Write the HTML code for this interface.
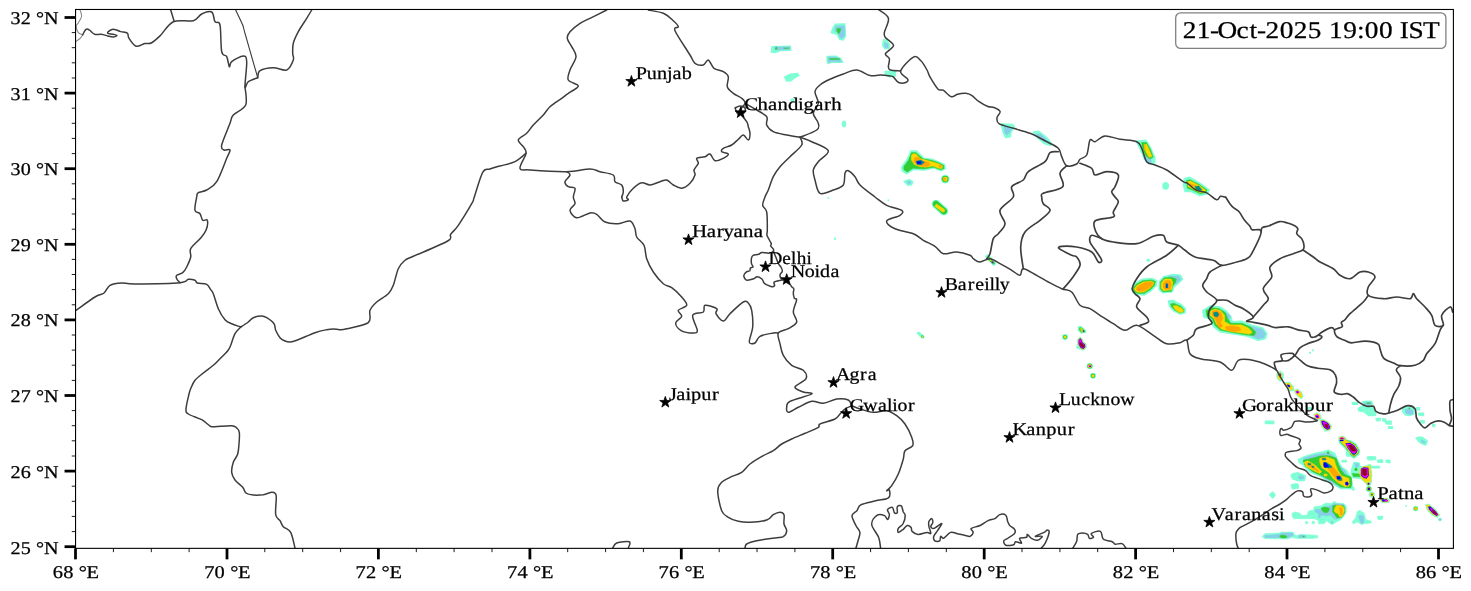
<!DOCTYPE html>
<html><head><meta charset="utf-8"><title>Radar map</title>
<style>html,body{margin:0;padding:0;background:#fff;overflow:hidden;}svg{display:block;will-change:transform;}text{font-family:"Liberation Serif",serif;fill:#000;stroke:#000;stroke-width:0.25px;text-rendering:geometricPrecision;}</style></head>
<body>
<svg width="1471" height="591" viewBox="0 0 1471 591">
<rect x="0" y="0" width="1471" height="591" fill="#fff"/>
<defs><clipPath id="ax"><rect x="75.55" y="9.48" width="1377.8500000000001" height="538.87"/></clipPath></defs>
<g clip-path="url(#ax)">
<polygon points="771.8,46.5 790.5,46.1 790.9,50.2 780.3,50.6 775.2,52.6 771.2,52.2" fill="#7fffd4" stroke="#7fffd4" stroke-width="1.2" stroke-linejoin="round"/>
<polygon points="774.2,47.0 790.1,47.0 790.1,49.6 775.2,50.0" fill="#87ceeb" stroke="#87ceeb" stroke-width="0.6" stroke-linejoin="round"/>
<polygon points="776.2,46.5 777.5,49.2 775.0,49.2" fill="#32cd32" stroke="#32cd32" stroke-width="0.3" stroke-linejoin="round"/>
<path d="M784.0,48.2 L788.4,48.2" fill="none" stroke="#32cd32" stroke-width="1.0" stroke-linecap="round" stroke-linejoin="round"/>
<polygon points="835.1,24.2 844.9,23.8 845.3,30.3 845.7,35.4 843.2,40.1 839.6,39.4 837.2,34.4 831.1,32.7 832.7,28.3" fill="#7fffd4" stroke="#7fffd4" stroke-width="1.2" stroke-linejoin="round"/>
<polygon points="835.5,26.2 844.3,25.8 844.9,35.4 842.2,38.4 839.6,37.4 838.2,32.7 834.7,31.3" fill="#87ceeb" stroke="#87ceeb" stroke-width="0.6" stroke-linejoin="round"/>
<polygon points="836.8,28.7 840.8,28.3 840.2,31.3 838.8,34.0 837.2,31.9" fill="#32cd32" stroke="#32cd32" stroke-width="0.4" stroke-linejoin="round"/>
<polygon points="827.0,56.3 836.1,56.1 841.2,58.7 842.8,62.4 831.1,62.4 828.0,63.8 827.0,60.8" fill="#7fffd4" stroke="#7fffd4" stroke-width="1.2" stroke-linejoin="round"/>
<polygon points="828.0,57.1 835.5,57.1 840.2,59.3 841.2,61.8 831.1,61.4 828.4,62.8" fill="#87ceeb" stroke="#87ceeb" stroke-width="0.6" stroke-linejoin="round"/>
<path d="M830.1,58.9 L839.2,58.9" fill="none" stroke="#32cd32" stroke-width="1.5" stroke-linecap="round" stroke-linejoin="round"/>
<polygon points="784.4,77.0 790.5,74.0 797.6,73.4 799.0,75.4 794.5,78.0 790.5,81.1 786.4,81.1" fill="#7fffd4" stroke="#7fffd4" stroke-width="1.2" stroke-linejoin="round"/>
<polygon points="883.5,39.4 886.9,40.5 889.9,44.5 888.9,48.6 884.9,48.6 882.4,45.5" fill="#7fffd4" stroke="#7fffd4" stroke-width="1.2" stroke-linejoin="round"/>
<polygon points="884.3,42.5 887.5,43.5 888.3,47.6 884.9,47.6" fill="#87ceeb" stroke="#87ceeb" stroke-width="0.6" stroke-linejoin="round"/>
<polygon points="884.9,71.3 895.6,70.9 895.6,76.0 889.9,77.0 885.5,75.4" fill="#7fffd4" stroke="#7fffd4" stroke-width="1.2" stroke-linejoin="round"/>
<ellipse cx="792.5" cy="100.3" rx="2.0" ry="2.0" fill="#7fffd4" transform="rotate(0 792.5 100.3)"/>
<ellipse cx="844.0" cy="124.0" rx="2.2" ry="3.4" fill="#7fffd4" transform="rotate(0 844.0 124.0)"/>
<polygon points="910.8,150.8 916.6,150.8 923.8,158.0 932.4,159.4 938.2,161.6 944.6,164.5 945.4,168.8 941.0,170.9 933.8,168.1 923.8,170.2 913.7,169.5 906.5,173.8 902.2,170.9 901.5,167.3 906.5,160.1 909.4,154.4" fill="#7fffd4" stroke="#7fffd4" stroke-width="1.2" stroke-linejoin="round"/>
<polygon points="911.5,152.7 915.9,152.7 923.1,159.0 931.7,160.4 938.2,162.7 943.9,165.6 943.6,168.8 940.3,169.5 933.8,167.1 923.8,168.8 913.0,168.1 907.2,171.9 903.9,169.5 903.9,166.6 908.7,160.1" fill="#32cd32" stroke="#32cd32" stroke-width="0.8" stroke-linejoin="round"/>
<polygon points="913.0,153.7 915.9,154.1 920.2,158.7 931.0,161.6 938.2,163.7 942.5,165.9 941.8,168.5 938.2,168.1 933.1,165.9 925.9,167.1 919.5,166.6 914.4,164.5 911.5,160.1 911.5,155.8" fill="#ffd700" stroke="#ffd700" stroke-width="0.6" stroke-linejoin="round"/>
<polygon points="914.4,158.0 918.0,157.3 922.3,160.9 928.8,162.3 930.3,164.5 927.4,166.6 921.6,166.2 916.6,164.7 913.7,161.6" fill="#ffa500" stroke="#ffa500" stroke-width="0.6" stroke-linejoin="round"/>
<polygon points="915.9,161.3 920.9,160.1 924.5,162.3 921.6,164.7 917.3,164.7" fill="#008b8b" stroke="#008b8b" stroke-width="0.5" stroke-linejoin="round"/>
<polygon points="916.9,161.6 920.9,161.6 920.9,163.7 917.3,163.7" fill="#0000ff" stroke="#0000ff" stroke-width="0.4" stroke-linejoin="round"/>
<polygon points="938.9,165.2 941.8,165.2 941.3,167.3 939.3,167.3" fill="#ffa500" stroke="#ffa500" stroke-width="0.4" stroke-linejoin="round"/>
<ellipse cx="945.2" cy="179.1" rx="4.3" ry="4.3" fill="#7fffd4" transform="rotate(0 945.2 179.1)"/>
<ellipse cx="945.2" cy="179.1" rx="3.3" ry="3.3" fill="#32cd32" transform="rotate(0 945.2 179.1)"/>
<ellipse cx="945.2" cy="179.1" rx="2.3" ry="2.3" fill="#ffd700" transform="rotate(0 945.2 179.1)"/>
<polygon points="943.2,177.7 945.6,178.1 945.4,180.6 943.5,180.3" fill="#ffa500" stroke="#ffa500" stroke-width="0.3" stroke-linejoin="round"/>
<polygon points="903.9,181.4 909.4,179.6 913.0,181.7 911.5,184.9 907.9,185.3" fill="#7fffd4" stroke="#7fffd4" stroke-width="1.2" stroke-linejoin="round"/>
<polygon points="906.5,181.7 910.1,181.0 911.1,183.2 908.7,183.9" fill="#87ceeb" stroke="#87ceeb" stroke-width="0.5" stroke-linejoin="round"/>
<path d="M936.0,204.0 L943.9,211.2" fill="none" stroke="#7fffd4" stroke-width="8.6" stroke-linecap="round" stroke-linejoin="round"/>
<path d="M936.0,204.0 L943.9,211.2" fill="none" stroke="#32cd32" stroke-width="6.4" stroke-linecap="round" stroke-linejoin="round"/>
<path d="M936.7,205.9 L943.2,210.5" fill="none" stroke="#ffd700" stroke-width="3.4" stroke-linecap="round" stroke-linejoin="round"/>
<polygon points="1001.1,123.9 1012.8,124.4 1014.8,127.1 1011.2,132.0 1010.4,136.9 1005.5,137.7 1003.1,132.8" fill="#7fffd4" stroke="#7fffd4" stroke-width="1.2" stroke-linejoin="round"/>
<polygon points="1003.9,126.3 1012.0,128.3 1009.3,132.8 1007.1,135.3 1004.7,132.8" fill="#87ceeb" stroke="#87ceeb" stroke-width="0.6" stroke-linejoin="round"/>
<polygon points="1033.2,132.0 1038.9,131.2 1047.1,137.7 1051.7,143.4 1050.4,145.6 1043.8,143.4 1037.3,137.7" fill="#7fffd4" stroke="#7fffd4" stroke-width="1.2" stroke-linejoin="round"/>
<polygon points="1036.5,134.1 1040.6,134.1 1046.3,139.4 1049.1,143.1 1044.7,141.8 1038.9,137.7" fill="#87ceeb" stroke="#87ceeb" stroke-width="0.6" stroke-linejoin="round"/>
<polygon points="1136.0,141.0 1145.8,140.2 1150.7,147.5 1155.1,158.1 1154.8,163.0 1149.1,163.8 1144.2,158.9 1140.1,149.2" fill="#7fffd4" stroke="#7fffd4" stroke-width="1.2" stroke-linejoin="round"/>
<polygon points="1144.2,156.5 1150.7,158.1 1151.5,162.2 1146.6,162.5 1144.7,159.8" fill="#87ceeb" stroke="#87ceeb" stroke-width="0.6" stroke-linejoin="round"/>
<polygon points="1141.7,142.6 1146.6,142.6 1150.7,150.0 1153.2,157.3 1149.9,158.9 1145.8,155.7 1142.6,149.2" fill="#32cd32" stroke="#32cd32" stroke-width="0.6" stroke-linejoin="round"/>
<polygon points="1144.2,144.6 1146.6,144.3 1149.6,150.8 1152.0,156.5 1149.1,157.3 1146.6,153.2 1144.7,149.2" fill="#ffd700" stroke="#ffd700" stroke-width="0.5" stroke-linejoin="round"/>
<path d="M1145.0,145.1 L1145.3,149.2" fill="none" stroke="#ffa500" stroke-width="0.8" stroke-linecap="round" stroke-linejoin="round"/>
<ellipse cx="1165.6" cy="185.9" rx="3.4" ry="3.8" fill="#7fffd4" transform="rotate(0 1165.6 185.9)"/>
<polygon points="1184.2,178.5 1189.9,177.2 1200.5,183.4 1209.4,189.9 1207.8,194.0 1199.7,195.7 1191.5,191.6 1185.0,191.6 1183.3,185.1" fill="#7fffd4" stroke="#7fffd4" stroke-width="1.2" stroke-linejoin="round"/>
<polygon points="1186.6,180.5 1189.9,179.8 1199.7,184.7 1207.0,189.9 1205.7,192.9 1199.7,193.5 1192.3,189.9 1187.4,188.3" fill="#32cd32" stroke="#32cd32" stroke-width="0.6" stroke-linejoin="round"/>
<polygon points="1187.7,181.5 1190.4,181.1 1199.2,185.4 1205.7,190.3 1204.7,192.1 1199.7,192.4 1193.1,189.1 1188.2,186.7" fill="#ffd700" stroke="#ffd700" stroke-width="0.5" stroke-linejoin="round"/>
<polygon points="1189.9,183.4 1195.6,185.4 1191.5,186.7" fill="#ffa500" stroke="#ffa500" stroke-width="0.4" stroke-linejoin="round"/>
<polygon points="1194.8,186.4 1198.8,185.9 1202.1,189.9 1198.8,191.1 1195.9,189.1" fill="#008b8b" stroke="#008b8b" stroke-width="0.5" stroke-linejoin="round"/>
<polygon points="1131.6,288.0 1135.3,283.1 1142.5,279.1 1152.2,278.3 1157.0,280.7 1156.2,285.5 1151.4,290.7 1144.1,295.2 1136.9,294.4 1132.9,292.8" fill="#7fffd4" stroke="#7fffd4" stroke-width="1.2" stroke-linejoin="round"/>
<polygon points="1133.2,288.4 1136.1,284.3 1142.8,280.7 1151.8,279.9 1155.4,281.5 1154.6,285.2 1150.5,289.6 1143.8,293.6 1137.4,293.3 1134.1,291.7" fill="#32cd32" stroke="#32cd32" stroke-width="0.6" stroke-linejoin="round"/>
<polygon points="1134.5,288.4 1137.4,285.2 1143.3,282.0 1151.4,281.2 1153.8,282.7 1153.0,285.2 1149.7,288.4 1143.8,292.0 1138.0,292.3 1135.3,290.7" fill="#ffd700" stroke="#ffd700" stroke-width="0.6" stroke-linejoin="round"/>
<polygon points="1136.1,288.0 1140.1,284.7 1145.7,282.3 1151.4,282.0 1153.0,283.6 1151.4,286.4 1148.1,288.8 1142.5,291.2 1138.0,291.2 1136.4,289.6" fill="#ffa500" stroke="#ffa500" stroke-width="0.5" stroke-linejoin="round"/>
<ellipse cx="1139.0" cy="289.6" rx="0.8" ry="0.8" fill="#ff6060" transform="rotate(0 1139.0 289.6)"/>
<polygon points="1159.4,281.5 1163.4,276.7 1173.1,274.3 1180.3,275.1 1182.7,279.1 1178.7,283.1 1173.9,287.2 1172.3,292.0 1162.6,292.8 1158.9,289.6" fill="#7fffd4" stroke="#7fffd4" stroke-width="1.2" stroke-linejoin="round"/>
<polygon points="1168.2,276.2 1178.7,275.9 1181.1,279.4 1175.5,283.9 1169.8,282.3" fill="#87ceeb" stroke="#87ceeb" stroke-width="0.6" stroke-linejoin="round"/>
<polygon points="1160.2,282.3 1164.2,277.8 1171.4,277.2 1176.3,279.1 1175.5,282.3 1172.7,286.4 1171.4,291.2 1163.1,291.7 1160.2,288.8" fill="#32cd32" stroke="#32cd32" stroke-width="0.6" stroke-linejoin="round"/>
<polygon points="1161.3,283.1 1164.7,279.1 1171.1,279.1 1172.7,282.3 1171.8,289.6 1163.7,290.7 1161.3,288.0" fill="#ffd700" stroke="#ffd700" stroke-width="0.6" stroke-linejoin="round"/>
<polygon points="1163.1,283.6 1165.5,280.4 1170.2,280.7 1171.4,283.9 1170.2,289.1 1164.7,289.6 1163.1,287.2" fill="#ffa500" stroke="#ffa500" stroke-width="0.5" stroke-linejoin="round"/>
<polygon points="1165.8,283.6 1167.9,283.6 1167.9,288.0 1165.8,288.0" fill="#008b8b" stroke="#008b8b" stroke-width="0.3" stroke-linejoin="round"/>
<path d="M1166.8,284.7 L1166.8,287.2" fill="none" stroke="#0000ff" stroke-width="0.8" stroke-linecap="round" stroke-linejoin="round"/>
<polygon points="1168.2,300.8 1173.1,300.3 1181.9,304.8 1185.6,308.9 1185.1,312.9 1180.3,314.2 1173.9,311.3 1169.5,306.4" fill="#7fffd4" stroke="#7fffd4" stroke-width="1.2" stroke-linejoin="round"/>
<polygon points="1170.6,304.0 1173.9,303.2 1181.1,306.4 1184.0,309.7 1183.5,312.1 1179.8,312.9 1174.7,310.0 1171.4,306.8" fill="#32cd32" stroke="#32cd32" stroke-width="0.6" stroke-linejoin="round"/>
<polygon points="1173.1,306.1 1176.3,305.6 1181.9,308.4 1183.5,310.5 1182.7,312.1 1179.5,312.6 1175.5,309.7" fill="#ffd700" stroke="#ffd700" stroke-width="0.5" stroke-linejoin="round"/>
<polygon points="1202.8,310.5 1210.0,306.1 1219.7,306.8 1226.9,311.3 1230.9,316.9 1232.5,321.7 1242.2,321.2 1253.4,325.7 1263.1,328.2 1267.1,333.8 1265.5,338.6 1258.3,340.5 1247.0,336.2 1232.5,333.8 1219.7,331.8 1213.2,326.5 1210.0,319.3 1203.6,316.9" fill="#7fffd4" stroke="#7fffd4" stroke-width="1.2" stroke-linejoin="round"/>
<polygon points="1248.6,325.7 1262.3,329.3 1265.5,334.1 1263.9,337.8 1257.9,338.9 1250.2,335.4" fill="#87ceeb" stroke="#87ceeb" stroke-width="0.6" stroke-linejoin="round"/>
<polygon points="1222.9,310.5 1230.9,316.1 1229.3,319.3 1224.5,314.5" fill="#87ceeb" stroke="#87ceeb" stroke-width="0.6" stroke-linejoin="round"/>
<polygon points="1206.0,310.5 1211.6,307.7 1218.9,308.5 1225.3,312.6 1227.7,318.5 1230.9,323.3 1242.2,323.3 1251.0,327.3 1255.9,332.2 1254.2,335.4 1247.0,335.1 1232.5,332.5 1220.5,330.2 1214.9,325.4 1212.0,318.5 1206.8,316.1" fill="#32cd32" stroke="#32cd32" stroke-width="0.6" stroke-linejoin="round"/>
<polygon points="1210.8,310.9 1214.9,309.3 1220.5,310.5 1224.5,315.3 1224.5,321.7 1230.9,324.9 1241.4,324.9 1248.6,328.2 1252.2,332.2 1249.4,334.1 1242.2,333.0 1230.9,331.4 1221.3,329.0 1216.5,324.1 1214.1,318.5 1210.0,315.3" fill="#ffd700" stroke="#ffd700" stroke-width="0.6" stroke-linejoin="round"/>
<polygon points="1212.4,311.3 1216.5,310.1 1221.3,312.9 1222.9,318.5 1220.5,322.5 1222.9,326.5 1218.1,325.7 1216.5,321.7 1214.5,317.7 1212.0,314.8" fill="#ffa500" stroke="#ffa500" stroke-width="0.5" stroke-linejoin="round"/>
<polygon points="1225.3,326.5 1232.5,325.7 1239.8,327.3 1240.6,330.6 1232.5,331.8 1226.1,329.8" fill="#ffa500" stroke="#ffa500" stroke-width="0.5" stroke-linejoin="round"/>
<polygon points="1218.4,324.5 1222.1,324.9 1221.0,327.7 1218.4,327.0" fill="#ffa500" stroke="#ffa500" stroke-width="0.4" stroke-linejoin="round"/>
<polygon points="1213.6,312.6 1217.3,312.1 1218.9,314.8 1217.3,316.9 1214.1,316.1" fill="#008b8b" stroke="#008b8b" stroke-width="0.5" stroke-linejoin="round"/>
<ellipse cx="1148.3" cy="260.3" rx="1.9" ry="1.5" fill="#7fffd4" transform="rotate(0 1148.3 260.3)"/>
<ellipse cx="1065.0" cy="337.1" rx="3.0" ry="3.0" fill="#7fffd4" transform="rotate(0 1065.0 337.1)"/>
<ellipse cx="1065.0" cy="337.1" rx="2.1" ry="2.1" fill="#32cd32" transform="rotate(0 1065.0 337.1)"/>
<ellipse cx="1065.0" cy="337.1" rx="1.3" ry="1.3" fill="#ffd700" transform="rotate(0 1065.0 337.1)"/>
<polygon points="1078.4,326.8 1081.0,326.5 1085.5,330.4 1085.7,332.5 1081.0,333.0 1078.4,330.4" fill="#7fffd4" stroke="#7fffd4" stroke-width="1.2" stroke-linejoin="round"/>
<polygon points="1079.3,327.8 1081.0,327.5 1084.6,330.6 1084.6,332.2 1081.4,332.3 1079.3,330.1" fill="#32cd32" stroke="#32cd32" stroke-width="0.4" stroke-linejoin="round"/>
<polygon points="1080.2,328.3 1081.4,328.3 1083.7,331.0 1083.1,331.9 1081.5,331.6" fill="#ffd700" stroke="#ffd700" stroke-width="0.3" stroke-linejoin="round"/>
<polygon points="1082.7,330.4 1084.3,331.0 1083.7,331.8" fill="#0000ff" stroke="#0000ff" stroke-width="0.3" stroke-linejoin="round"/>
<polygon points="1077.8,339.3 1080.2,336.9 1082.5,339.3 1083.1,341.6 1086.1,344.0 1086.4,347.5 1083.7,350.3 1080.2,349.3 1076.6,348.1 1077.5,344.0" fill="#7fffd4" stroke="#7fffd4" stroke-width="0.8" stroke-linejoin="round"/>
<polygon points="1078.2,339.6 1080.2,337.7 1082.0,339.6 1082.7,342.0 1085.5,344.3 1085.7,347.2 1083.5,349.6 1080.5,348.5 1078.2,344.6" fill="#ffd700" stroke="#ffd700" stroke-width="0.4" stroke-linejoin="round"/>
<polygon points="1078.8,339.9 1080.2,338.4 1081.5,340.1 1082.2,342.5 1084.9,344.6 1085.1,347.0 1083.4,348.8 1080.8,347.8 1078.8,344.3" fill="#0000ff" stroke="#0000ff" stroke-width="0.4" stroke-linejoin="round"/>
<polygon points="1079.2,340.1 1080.2,339.0 1081.1,340.4 1081.7,342.8 1084.3,344.8 1084.6,346.7 1083.3,348.1 1081.0,347.2 1079.2,344.1" fill="#ff00ff" stroke="#ff00ff" stroke-width="0.3" stroke-linejoin="round"/>
<polygon points="1079.8,342.0 1081.4,343.2 1083.8,345.2 1084.0,346.7 1083.1,347.5 1081.2,346.7 1079.7,343.9" fill="#8b0020" stroke="#8b0020" stroke-width="0.3" stroke-linejoin="round"/>
<ellipse cx="1089.8" cy="366.1" rx="3.2" ry="3.2" fill="#7fffd4" transform="rotate(0 1089.8 366.1)"/>
<ellipse cx="1089.8" cy="366.1" rx="2.5" ry="2.5" fill="#32cd32" transform="rotate(0 1089.8 366.1)"/>
<ellipse cx="1089.8" cy="366.1" rx="1.9" ry="1.9" fill="#ffd700" transform="rotate(0 1089.8 366.1)"/>
<ellipse cx="1089.8" cy="366.1" rx="1.2" ry="1.2" fill="#ff00ff" transform="rotate(0 1089.8 366.1)"/>
<ellipse cx="1090.2" cy="366.6" rx="0.7" ry="0.7" fill="#0000ff" transform="rotate(0 1090.2 366.6)"/>
<ellipse cx="1093.0" cy="375.8" rx="3.0" ry="3.0" fill="#7fffd4" transform="rotate(0 1093.0 375.8)"/>
<ellipse cx="1093.0" cy="375.8" rx="2.2" ry="2.2" fill="#32cd32" transform="rotate(0 1093.0 375.8)"/>
<ellipse cx="1093.0" cy="375.8" rx="1.4" ry="1.4" fill="#ffd700" transform="rotate(0 1093.0 375.8)"/>
<polygon points="1277.2,372.9 1280.2,371.0 1283.6,373.7 1283.3,378.3 1280.2,381.6 1277.5,379.0 1276.4,375.2" fill="#7fffd4" stroke="#7fffd4" stroke-width="0.8" stroke-linejoin="round"/>
<polygon points="1277.9,373.7 1280.2,372.2 1282.1,375.2 1281.0,379.0 1279.5,379.8 1277.8,377.1" fill="#ffd700" stroke="#ffd700" stroke-width="0.5" stroke-linejoin="round"/>
<polygon points="1278.4,374.5 1280.2,373.4 1281.0,375.2 1279.5,376.4" fill="#0000ff" stroke="#0000ff" stroke-width="0.4" stroke-linejoin="round"/>
<ellipse cx="1279.6" cy="374.9" rx="0.7" ry="0.7" fill="#ff00ff" transform="rotate(0 1279.6 374.9)"/>
<polygon points="1284.0,382.8 1289.4,382.1 1293.6,386.6 1293.9,390.5 1290.9,391.2 1286.3,387.4" fill="#7fffd4" stroke="#7fffd4" stroke-width="0.8" stroke-linejoin="round"/>
<polygon points="1285.1,383.6 1289.1,383.1 1292.4,387.1 1292.7,389.7 1290.6,389.8 1287.1,386.6" fill="#ffd700" stroke="#ffd700" stroke-width="0.5" stroke-linejoin="round"/>
<polygon points="1287.1,384.8 1289.4,385.1 1290.1,387.1 1288.1,386.8" fill="#0000ff" stroke="#0000ff" stroke-width="0.4" stroke-linejoin="round"/>
<polygon points="1294.2,390.5 1297.7,388.9 1301.5,392.0 1303.1,396.5 1301.5,399.0 1298.8,397.3 1295.5,393.8" fill="#7fffd4" stroke="#7fffd4" stroke-width="0.8" stroke-linejoin="round"/>
<polygon points="1295.1,390.9 1297.7,390.0 1300.8,392.4 1302.0,396.5 1300.9,397.8 1299.1,396.2 1296.2,393.5" fill="#ffd700" stroke="#ffd700" stroke-width="0.5" stroke-linejoin="round"/>
<polygon points="1295.9,391.2 1298.2,390.9 1299.3,392.7 1297.0,393.5" fill="#ff00ff" stroke="#ff00ff" stroke-width="0.4" stroke-linejoin="round"/>
<ellipse cx="1297.4" cy="392.1" rx="0.8" ry="0.8" fill="#0000ff" transform="rotate(0 1297.4 392.1)"/>
<polygon points="1313.7,414.8 1316.8,412.5 1320.6,414.8 1321.3,418.6 1318.3,420.1 1314.9,418.6" fill="#7fffd4" stroke="#7fffd4" stroke-width="0.8" stroke-linejoin="round"/>
<polygon points="1314.5,415.1 1316.8,413.6 1319.8,415.3 1320.3,418.2 1318.3,419.1 1315.5,418.0" fill="#ffd700" stroke="#ffd700" stroke-width="0.5" stroke-linejoin="round"/>
<polygon points="1315.2,415.6 1317.1,414.5 1319.0,416.0 1319.0,417.9 1317.1,418.2 1315.7,417.2" fill="#ff00ff" stroke="#ff00ff" stroke-width="0.4" stroke-linejoin="round"/>
<polygon points="1316.2,416.0 1318.0,416.0 1318.0,417.6 1316.5,417.2" fill="#0000ff" stroke="#0000ff" stroke-width="0.3" stroke-linejoin="round"/>
<polygon points="1320.1,420.1 1323.6,419.4 1328.9,422.4 1331.5,426.2 1330.5,430.0 1326.7,431.1 1322.9,428.5 1320.6,423.9" fill="#7fffd4" stroke="#7fffd4" stroke-width="0.8" stroke-linejoin="round"/>
<polygon points="1320.9,420.6 1323.6,420.1 1328.5,422.9 1330.8,426.4 1329.9,429.4 1326.8,430.2 1323.5,427.9 1321.3,423.9" fill="#ffd700" stroke="#ffd700" stroke-width="0.5" stroke-linejoin="round"/>
<polygon points="1321.6,420.9 1323.8,420.9 1328.0,423.3 1330.0,426.7 1329.3,428.8 1327.0,429.4 1324.1,427.3 1322.1,423.9" fill="#0000ff" stroke="#0000ff" stroke-width="0.4" stroke-linejoin="round"/>
<polygon points="1322.6,421.7 1324.4,422.1 1327.7,423.9 1329.3,426.7 1328.6,428.2 1327.0,428.5 1324.7,426.7 1323.2,423.9" fill="#ff00ff" stroke="#ff00ff" stroke-width="0.4" stroke-linejoin="round"/>
<polygon points="1324.4,423.9 1327.1,424.3 1328.6,427.0 1327.7,428.2 1325.6,427.0" fill="#8b0020" stroke="#8b0020" stroke-width="0.4" stroke-linejoin="round"/>
<polygon points="1338.4,437.6 1341.9,435.8 1345.7,437.6 1346.5,441.5 1343.4,443.4 1339.6,441.9" fill="#7fffd4" stroke="#7fffd4" stroke-width="0.8" stroke-linejoin="round"/>
<polygon points="1339.1,438.0 1341.9,436.6 1344.9,438.0 1345.7,441.2 1343.3,442.5 1340.2,441.3" fill="#ffd700" stroke="#ffd700" stroke-width="0.5" stroke-linejoin="round"/>
<polygon points="1339.9,438.3 1342.0,437.3 1344.2,438.4 1344.5,440.4 1342.6,441.3 1340.7,440.4" fill="#ff00ff" stroke="#ff00ff" stroke-width="0.4" stroke-linejoin="round"/>
<polygon points="1340.7,438.6 1342.6,438.3 1343.3,439.9 1341.6,440.2" fill="#8b0020" stroke="#8b0020" stroke-width="0.3" stroke-linejoin="round"/>
<polygon points="1358.2,408.4 1362.4,405.7 1370.1,405.4 1373.9,408.0 1376.1,413.3 1375.4,415.6 1368.5,415.6 1364.0,411.8 1358.6,411.0" fill="#7fffd4" stroke="#7fffd4" stroke-width="1.2" stroke-linejoin="round"/>
<polygon points="1362.4,401.4 1371.6,401.1 1372.8,404.2 1370.1,406.0 1364.7,405.7" fill="#7fffd4" stroke="#7fffd4" stroke-width="1.2" stroke-linejoin="round"/>
<polygon points="1363.7,402.3 1370.8,402.0 1371.6,404.2 1369.3,405.4 1365.2,404.9" fill="#87ceeb" stroke="#87ceeb" stroke-width="0.5" stroke-linejoin="round"/>
<path d="M1367.0,403.1 L1370.1,403.1" fill="none" stroke="#32cd32" stroke-width="1.2" stroke-linecap="round" stroke-linejoin="round"/>
<polygon points="1352.1,402.3 1357.6,402.3 1357.6,404.5 1352.5,404.5" fill="#7fffd4" stroke="#7fffd4" stroke-width="1.2" stroke-linejoin="round"/>
<polygon points="1375.8,418.6 1380.4,418.2 1380.0,420.6 1376.9,420.9" fill="#7fffd4" stroke="#7fffd4" stroke-width="1.2" stroke-linejoin="round"/>
<polygon points="1382.5,418.6 1386.0,419.1 1385.3,421.7 1383.0,420.9" fill="#7fffd4" stroke="#7fffd4" stroke-width="1.2" stroke-linejoin="round"/>
<polygon points="1385.3,421.2 1391.4,421.2 1391.1,424.3 1386.0,423.9" fill="#7fffd4" stroke="#7fffd4" stroke-width="1.2" stroke-linejoin="round"/>
<polygon points="1388.3,426.7 1392.6,426.7 1392.6,428.5 1388.6,428.5" fill="#7fffd4" stroke="#7fffd4" stroke-width="1.2" stroke-linejoin="round"/>
<polygon points="1402.3,408.4 1408.1,406.4 1413.9,408.7 1414.2,414.0 1409.6,415.6 1405.1,414.8 1402.8,411.8" fill="#7fffd4" stroke="#7fffd4" stroke-width="1.2" stroke-linejoin="round"/>
<polygon points="1405.1,409.5 1408.9,408.4 1413.0,410.2 1413.0,414.0 1408.9,414.5 1405.8,413.3" fill="#87ceeb" stroke="#87ceeb" stroke-width="0.5" stroke-linejoin="round"/>
<ellipse cx="1409.3" cy="408.4" rx="0.8" ry="0.8" fill="#32cd32" transform="rotate(0 1409.3 408.4)"/>
<polygon points="1416.5,407.5 1419.5,407.5 1419.5,409.9 1416.9,409.9" fill="#7fffd4" stroke="#7fffd4" stroke-width="1.2" stroke-linejoin="round"/>
<polygon points="1418.5,413.0 1423.6,413.0 1423.6,415.6 1418.8,415.1" fill="#7fffd4" stroke="#7fffd4" stroke-width="1.2" stroke-linejoin="round"/>
<polygon points="1420.6,420.6 1424.6,420.9 1424.1,423.2 1421.1,422.7" fill="#7fffd4" stroke="#7fffd4" stroke-width="1.2" stroke-linejoin="round"/>
<polygon points="1432.5,424.3 1434.8,424.3 1434.8,426.7 1432.8,426.7" fill="#7fffd4" stroke="#7fffd4" stroke-width="1.2" stroke-linejoin="round"/>
<polygon points="1416.0,438.0 1419.5,436.9 1426.7,440.7 1426.4,444.0 1421.8,443.7 1418.0,440.7" fill="#7fffd4" stroke="#7fffd4" stroke-width="1.2" stroke-linejoin="round"/>
<polygon points="1420.3,439.9 1424.9,441.5 1424.9,443.4 1421.8,443.0" fill="#87ceeb" stroke="#87ceeb" stroke-width="0.5" stroke-linejoin="round"/>
<polygon points="1265.3,421.2 1273.8,421.2 1273.8,423.6 1265.3,423.6" fill="#7fffd4" stroke="#7fffd4" stroke-width="1.2" stroke-linejoin="round"/>
<polygon points="1307.9,407.5 1310.7,407.5 1310.7,409.5 1308.2,409.5" fill="#7fffd4" stroke="#7fffd4" stroke-width="1.2" stroke-linejoin="round"/>
<polygon points="1298.6,459.3 1305.2,456.2 1313.4,453.7 1323.5,451.7 1328.6,450.2 1334.7,453.2 1337.7,460.3 1341.8,467.4 1346.9,470.5 1350.9,477.6 1352.9,488.7 1340.8,488.7 1330.6,482.6 1320.5,476.5 1310.3,472.5 1303.2,465.4 1298.6,461.8" fill="#7fffd4" stroke="#7fffd4" stroke-width="1.2" stroke-linejoin="round"/>
<polygon points="1303.2,458.3 1313.4,455.2 1324.5,453.2 1330.6,453.7 1335.7,457.8 1338.7,465.4 1344.8,470.5 1346.9,474.5 1338.7,473.5 1330.6,470.5" fill="#87ceeb" stroke="#87ceeb" stroke-width="0.8" stroke-linejoin="round"/>
<polygon points="1310.3,470.5 1320.5,475.5 1330.6,481.6 1338.7,486.7 1340.8,487.7 1332.6,480.6 1320.5,473.5" fill="#87ceeb" stroke="#87ceeb" stroke-width="0.8" stroke-linejoin="round"/>
<polygon points="1303.2,460.3 1308.3,459.3 1314.4,457.8 1320.5,456.0 1328.6,455.7 1336.2,458.3 1338.5,464.4 1341.0,469.9 1344.6,474.5 1351.1,477.1 1351.9,482.6 1350.9,487.7 1340.8,486.9 1332.6,481.1 1320.5,475.0 1313.4,472.0 1305.2,465.9" fill="#32cd32" stroke="#32cd32" stroke-width="0.8" stroke-linejoin="round"/>
<ellipse cx="1328.1" cy="452.7" rx="1.3" ry="1.3" fill="#32cd32" transform="rotate(0 1328.1 452.7)"/>
<polygon points="1304.2,462.3 1307.8,460.8 1315.4,465.4 1321.5,471.5 1319.9,473.5 1314.4,471.0 1306.2,466.4" fill="#ffd700" stroke="#ffd700" stroke-width="0.6" stroke-linejoin="round"/>
<polygon points="1319.8,458.3 1326.5,456.9 1334.3,459.7 1335.5,464.4 1337.9,470.5 1341.3,475.7 1348.9,478.4 1349.3,485.9 1344.8,486.5 1338.9,483.2 1332.8,478.2 1328.8,472.3 1321.9,467.7 1319.8,462.5" fill="#ffd700" stroke="#ffd700" stroke-width="0.6" stroke-linejoin="round"/>
<polygon points="1324.0,474.0 1327.1,474.0 1327.1,476.0 1324.0,476.0" fill="#ffd700" stroke="#ffd700" stroke-width="0.5" stroke-linejoin="round"/>
<polygon points="1306.2,463.8 1308.3,462.9 1313.9,466.4 1319.0,471.0 1318.4,471.8 1314.4,469.5 1307.5,465.4" fill="#ffa500" stroke="#ffa500" stroke-width="0.4" stroke-linejoin="round"/>
<polygon points="1321.5,458.3 1325.5,457.5 1326.5,459.8 1322.5,460.3" fill="#ffa500" stroke="#ffa500" stroke-width="0.5" stroke-linejoin="round"/>
<polygon points="1327.1,464.9 1332.6,466.2 1337.7,472.5 1341.3,476.5 1342.8,480.6 1338.7,481.6 1334.7,477.6 1330.6,472.5 1328.1,468.9" fill="#ffa500" stroke="#ffa500" stroke-width="0.5" stroke-linejoin="round"/>
<polygon points="1322.3,458.5 1325.5,458.3 1325.7,459.8 1322.5,460.0" fill="#008b8b" stroke="#008b8b" stroke-width="0.4" stroke-linejoin="round"/>
<polygon points="1323.3,462.5 1326.5,462.5 1331.6,465.9 1331.6,467.6 1328.6,467.9 1324.0,467.4" fill="#008b8b" stroke="#008b8b" stroke-width="0.4" stroke-linejoin="round"/>
<polygon points="1336.5,476.0 1340.3,476.0 1342.0,479.1 1341.3,480.8 1337.7,480.1" fill="#008b8b" stroke="#008b8b" stroke-width="0.4" stroke-linejoin="round"/>
<polygon points="1308.0,463.1 1310.8,463.4 1310.8,464.9 1308.3,464.9" fill="#008b8b" stroke="#008b8b" stroke-width="0.4" stroke-linejoin="round"/>
<polygon points="1311.8,465.9 1313.9,466.2 1313.9,467.6 1312.1,467.6" fill="#008b8b" stroke="#008b8b" stroke-width="0.4" stroke-linejoin="round"/>
<polygon points="1324.0,462.8 1325.5,462.5 1328.8,466.6 1325.0,467.4 1323.7,465.9" fill="#0000ff" stroke="#0000ff" stroke-width="0.4" stroke-linejoin="round"/>
<polygon points="1336.9,476.8 1339.9,476.8 1340.3,479.1 1337.2,479.1" fill="#0000ff" stroke="#0000ff" stroke-width="0.4" stroke-linejoin="round"/>
<polygon points="1345.3,482.4 1347.4,481.8 1348.6,483.9 1347.4,485.4 1345.6,484.7" fill="#0000ff" stroke="#0000ff" stroke-width="0.4" stroke-linejoin="round"/>
<polygon points="1354.0,462.3 1359.0,462.8 1360.1,466.4 1363.1,466.9 1370.2,464.4 1371.7,473.5 1371.2,482.6 1368.2,485.7 1361.1,478.6 1352.9,477.6 1350.9,473.5 1351.9,468.4" fill="#7fffd4" stroke="#7fffd4" stroke-width="1.2" stroke-linejoin="round"/>
<polygon points="1355.0,463.4 1358.5,463.6 1358.8,466.6 1355.5,467.4" fill="#87ceeb" stroke="#87ceeb" stroke-width="0.6" stroke-linejoin="round"/>
<polygon points="1352.4,473.5 1360.1,474.0 1360.6,476.5 1353.5,476.8" fill="#32cd32" stroke="#32cd32" stroke-width="0.6" stroke-linejoin="round"/>
<ellipse cx="1356.0" cy="469.4" rx="1.6" ry="1.6" fill="#32cd32" transform="rotate(0 1356.0 469.4)"/>
<polygon points="1360.1,468.9 1363.1,466.9 1370.2,465.9 1370.9,473.5 1370.7,482.6 1367.7,484.7 1364.6,481.6 1361.1,478.1 1359.5,473.5" fill="#ffd700" stroke="#ffd700" stroke-width="0.6" stroke-linejoin="round"/>
<polygon points="1361.1,468.9 1363.6,467.6 1368.2,467.9 1368.7,475.5 1366.6,478.4 1363.6,477.8 1361.1,475.5" fill="#0000ff" stroke="#0000ff" stroke-width="0.4" stroke-linejoin="round"/>
<polygon points="1361.6,469.2 1363.9,468.2 1367.7,468.4 1368.0,475.3 1366.3,477.6 1363.9,477.1 1361.7,475.0" fill="#ff00ff" stroke="#ff00ff" stroke-width="0.4" stroke-linejoin="round"/>
<polygon points="1362.5,468.9 1366.6,468.9 1367.0,474.5 1365.1,476.0 1362.5,474.5" fill="#8b0020" stroke="#8b0020" stroke-width="0.4" stroke-linejoin="round"/>
<polygon points="1367.7,482.6 1370.0,482.4 1370.2,484.5 1368.0,484.7" fill="#0000ff" stroke="#0000ff" stroke-width="0.4" stroke-linejoin="round"/>
<ellipse cx="1368.9" cy="488.9" rx="3.0" ry="3.0" fill="#7fffd4" transform="rotate(0 1368.9 488.9)"/>
<ellipse cx="1368.9" cy="488.9" rx="2.4" ry="2.4" fill="#32cd32" transform="rotate(0 1368.9 488.9)"/>
<ellipse cx="1368.9" cy="488.9" rx="1.8" ry="1.8" fill="#ffd700" transform="rotate(0 1368.9 488.9)"/>
<ellipse cx="1368.9" cy="488.9" rx="1.3" ry="1.3" fill="#0000ff" transform="rotate(0 1368.9 488.9)"/>
<ellipse cx="1368.9" cy="488.9" rx="0.7" ry="0.7" fill="#8b0020" transform="rotate(0 1368.9 488.9)"/>
<ellipse cx="1371.9" cy="494.6" rx="3.0" ry="3.0" fill="#7fffd4" transform="rotate(0 1371.9 494.6)"/>
<ellipse cx="1371.9" cy="494.6" rx="2.0" ry="2.0" fill="#ffd700" transform="rotate(0 1371.9 494.6)"/>
<ellipse cx="1371.9" cy="494.6" rx="1.1" ry="1.1" fill="#008b8b" transform="rotate(0 1371.9 494.6)"/>
<polygon points="1338.7,440.0 1346.9,440.0 1350.9,441.0 1356.0,444.1 1359.5,450.2 1359.0,454.2 1354.0,458.3 1349.9,455.2 1344.8,448.1 1339.7,443.0" fill="#7fffd4" stroke="#7fffd4" stroke-width="1.2" stroke-linejoin="round"/>
<polygon points="1339.7,440.0 1345.8,440.0 1350.9,441.8 1355.5,444.6 1358.8,450.2 1358.2,453.7 1353.8,457.1 1350.7,454.7 1345.6,447.6 1340.6,442.5" fill="#32cd32" stroke="#32cd32" stroke-width="0.5" stroke-linejoin="round"/>
<polygon points="1340.3,440.0 1345.3,440.0 1350.7,442.5 1355.0,445.1 1358.2,450.2 1357.5,453.2 1353.8,456.2 1351.2,454.2 1346.1,447.1 1341.3,442.2" fill="#ffd700" stroke="#ffd700" stroke-width="0.5" stroke-linejoin="round"/>
<polygon points="1345.6,443.6 1349.9,443.0 1354.2,445.6 1357.2,450.2 1356.5,452.7 1354.0,455.2 1351.7,453.2 1347.9,448.1" fill="#0000ff" stroke="#0000ff" stroke-width="0.4" stroke-linejoin="round"/>
<polygon points="1346.1,444.1 1349.9,443.9 1353.8,446.1 1356.5,450.2 1355.8,452.2 1354.0,453.7 1351.9,452.4 1348.4,447.9" fill="#ff00ff" stroke="#ff00ff" stroke-width="0.4" stroke-linejoin="round"/>
<polygon points="1348.4,445.3 1350.9,444.9 1354.0,447.1 1355.8,450.2 1355.0,451.4 1351.9,451.0 1349.9,448.6" fill="#8b0020" stroke="#8b0020" stroke-width="0.4" stroke-linejoin="round"/>
<polygon points="1352.4,453.7 1355.0,453.2 1354.2,455.2" fill="#008b8b" stroke="#008b8b" stroke-width="0.4" stroke-linejoin="round"/>
<polygon points="1339.7,440.0 1343.3,440.0 1343.3,441.0 1340.3,441.0" fill="#0000ff" stroke="#0000ff" stroke-width="0.3" stroke-linejoin="round"/>
<polygon points="1291.5,474.5 1294.6,473.0 1298.1,475.0 1297.6,478.6 1294.1,479.1 1291.2,477.1" fill="#7fffd4" stroke="#7fffd4" stroke-width="1.2" stroke-linejoin="round"/>
<polygon points="1299.1,476.0 1302.7,475.5 1303.7,478.1 1301.2,480.1 1298.9,478.6" fill="#7fffd4" stroke="#7fffd4" stroke-width="1.2" stroke-linejoin="round"/>
<polygon points="1299.6,476.5 1302.2,476.3 1302.7,478.1 1300.7,479.1" fill="#87ceeb" stroke="#87ceeb" stroke-width="0.5" stroke-linejoin="round"/>
<polygon points="1291.5,485.2 1295.1,483.9 1298.6,485.7 1298.1,487.7 1294.1,488.2 1291.5,486.9" fill="#7fffd4" stroke="#7fffd4" stroke-width="1.2" stroke-linejoin="round"/>
<polygon points="1367.2,457.8 1371.2,457.1 1374.3,458.3 1373.2,459.8 1368.7,459.8" fill="#7fffd4" stroke="#7fffd4" stroke-width="1.2" stroke-linejoin="round"/>
<polygon points="1377.3,460.3 1381.9,459.8 1382.4,461.8 1378.3,462.3" fill="#7fffd4" stroke="#7fffd4" stroke-width="1.2" stroke-linejoin="round"/>
<polygon points="1385.9,460.5 1390.0,460.3 1390.0,462.8 1386.4,462.5" fill="#7fffd4" stroke="#7fffd4" stroke-width="1.2" stroke-linejoin="round"/>
<polygon points="1341.8,460.5 1346.3,460.3 1346.3,461.8 1342.0,461.8" fill="#7fffd4" stroke="#7fffd4" stroke-width="1.2" stroke-linejoin="round"/>
<polygon points="1371.2,466.4 1379.3,466.4 1379.3,467.9 1371.4,467.9" fill="#7fffd4" stroke="#7fffd4" stroke-width="1.2" stroke-linejoin="round"/>
<polygon points="1351.9,487.7 1354.0,487.7 1354.0,490.3 1352.4,489.7" fill="#7fffd4" stroke="#7fffd4" stroke-width="1.2" stroke-linejoin="round"/>
<polygon points="1346.1,452.2 1348.9,452.2 1349.4,456.2 1346.9,456.2" fill="#7fffd4" stroke="#7fffd4" stroke-width="1.2" stroke-linejoin="round"/>
<polygon points="1379.7,498.6 1386.8,498.0 1389.8,500.0 1388.8,502.7 1381.7,502.7" fill="#7fffd4" stroke="#7fffd4" stroke-width="0.8" stroke-linejoin="round"/>
<polygon points="1380.3,499.0 1386.4,498.6 1388.8,500.4 1388.0,502.1 1382.1,502.1" fill="#ffd700" stroke="#ffd700" stroke-width="0.5" stroke-linejoin="round"/>
<polygon points="1381.7,499.6 1386.8,499.4 1387.8,501.1 1382.7,501.5" fill="#0000ff" stroke="#0000ff" stroke-width="0.4" stroke-linejoin="round"/>
<polygon points="1384.8,499.8 1387.4,500.0 1387.2,501.3 1385.2,501.3" fill="#ff00ff" stroke="#ff00ff" stroke-width="0.3" stroke-linejoin="round"/>
<ellipse cx="1415.6" cy="508.6" rx="2.6" ry="2.6" fill="#7fffd4" transform="rotate(0 1415.6 508.6)"/>
<ellipse cx="1415.6" cy="508.6" rx="2.0" ry="2.0" fill="#32cd32" transform="rotate(0 1415.6 508.6)"/>
<ellipse cx="1415.6" cy="508.6" rx="1.5" ry="1.5" fill="#ffd700" transform="rotate(0 1415.6 508.6)"/>
<ellipse cx="1415.6" cy="508.6" rx="0.8" ry="0.8" fill="#ffa500" transform="rotate(0 1415.6 508.6)"/>
<polygon points="1425.4,504.7 1429.0,504.1 1435.5,509.6 1440.0,514.9 1437.6,517.7 1431.9,515.3 1427.4,510.2" fill="#7fffd4" stroke="#7fffd4" stroke-width="0.8" stroke-linejoin="round"/>
<polygon points="1426.2,505.1 1429.0,505.1 1435.1,510.2 1438.8,514.9 1437.1,516.5 1432.3,514.2 1428.0,509.8" fill="#ffd700" stroke="#ffd700" stroke-width="0.5" stroke-linejoin="round"/>
<polygon points="1428.4,506.7 1430.4,506.7 1435.5,511.2 1438.0,514.7 1436.5,515.7 1432.7,513.2 1429.4,509.6" fill="#0000ff" stroke="#0000ff" stroke-width="0.4" stroke-linejoin="round"/>
<polygon points="1429.8,508.2 1431.9,508.8 1435.9,512.2 1437.6,514.4 1436.1,515.1 1433.1,512.8" fill="#ff00ff" stroke="#ff00ff" stroke-width="0.4" stroke-linejoin="round"/>
<polygon points="1431.9,509.8 1434.5,511.2 1437.1,514.2 1435.5,514.4 1433.1,512.2" fill="#8b0020" stroke="#8b0020" stroke-width="0.4" stroke-linejoin="round"/>
<ellipse cx="1440.0" cy="519.5" rx="1.8" ry="1.8" fill="#7fffd4" transform="rotate(0 1440.0 519.5)"/>
<ellipse cx="1440.0" cy="519.5" rx="1.2" ry="1.2" fill="#87ceeb" transform="rotate(0 1440.0 519.5)"/>
<polygon points="1292.1,513.2 1295.5,511.9 1299.8,513.2 1302.3,515.7 1307.4,514.9 1308.2,511.5 1310.8,510.2 1313.3,510.7 1314.1,506.8 1320.9,506.0 1326.0,503.0 1331.9,503.5 1334.5,500.9 1336.1,503.0 1343.8,503.5 1346.3,506.0 1346.3,511.9 1343.8,516.2 1341.2,519.5 1336.1,522.1 1332.8,524.6 1329.4,523.3 1326.8,520.4 1324.3,523.8 1318.4,523.8 1318.4,520.4 1314.1,518.7 1304.0,518.7 1293.8,518.7 1292.1,516.2" fill="#7fffd4" stroke="#7fffd4" stroke-width="0.6" stroke-linejoin="round"/>
<polygon points="1315.0,509.8 1320.9,509.0 1324.3,506.8 1331.1,505.6 1333.6,503.5 1343.8,504.3 1345.4,508.5 1344.6,513.6 1341.2,517.8 1336.1,519.5 1332.8,517.8 1331.1,515.3 1326.0,515.7 1320.9,515.3 1320.1,517.8 1318.4,517.8 1318.4,513.2 1315.0,511.9" fill="#87ceeb" stroke="#87ceeb" stroke-width="0.4" stroke-linejoin="round"/>
<polygon points="1331.1,521.2 1332.8,521.2 1332.8,523.3 1331.1,523.3" fill="#87ceeb" stroke="#87ceeb" stroke-width="0.3" stroke-linejoin="round"/>
<polygon points="1321.1,508.1 1324.3,507.0 1327.7,507.7 1329.8,508.5 1328.5,511.5 1326.8,512.8 1324.3,512.6 1322.2,510.7" fill="#32cd32" stroke="#32cd32" stroke-width="0.4" stroke-linejoin="round"/>
<polygon points="1332.8,505.6 1336.1,505.0 1343.3,505.6 1345.0,508.5 1344.6,513.2 1341.6,517.4 1337.0,518.0 1334.5,514.5 1332.3,511.5" fill="#32cd32" stroke="#32cd32" stroke-width="0.4" stroke-linejoin="round"/>
<polygon points="1334.5,509.0 1336.1,505.6 1340.4,505.3 1343.3,506.8 1344.6,509.4 1343.3,514.0 1341.6,517.0 1339.5,516.6 1338.3,514.0 1335.7,512.8 1334.0,511.1" fill="#ffd700" stroke="#ffd700" stroke-width="0.4" stroke-linejoin="round"/>
<polygon points="1339.4,507.7 1342.1,507.5 1342.5,510.7 1341.9,515.3 1340.2,514.9 1339.9,511.1" fill="#ffa500" stroke="#ffa500" stroke-width="0.3" stroke-linejoin="round"/>
<polygon points="1305.3,521.6 1307.8,521.6 1307.8,523.8 1305.3,523.8" fill="#7fffd4" stroke="#7fffd4" stroke-width="0.4" stroke-linejoin="round"/>
<polygon points="1312.0,521.2 1314.6,521.2 1314.6,523.8 1312.0,523.8" fill="#7fffd4" stroke="#7fffd4" stroke-width="0.4" stroke-linejoin="round"/>
<polygon points="1352.2,522.1 1355.6,517.8 1357.3,511.5 1359.8,510.2 1364.1,513.2 1365.8,519.5 1368.3,520.4 1370.0,520.4 1371.7,522.5 1367.4,523.8 1364.9,523.3 1361.5,524.6 1357.3,522.1 1353.1,523.8" fill="#7fffd4" stroke="#7fffd4" stroke-width="0.6" stroke-linejoin="round"/>
<polygon points="1358.1,516.2 1360.3,514.9 1363.6,515.7 1364.1,522.9 1361.1,523.8 1359.8,520.4" fill="#87ceeb" stroke="#87ceeb" stroke-width="0.4" stroke-linejoin="round"/>
<polygon points="1262.1,536.5 1265.1,533.5 1279.5,533.1 1281.2,532.1 1293.0,532.1 1294.7,534.8 1296.4,535.6 1300.6,534.3 1317.5,535.4 1318.0,537.7 1311.6,538.6 1297.2,538.6 1292.1,537.3 1287.9,539.0 1264.2,538.6" fill="#7fffd4" stroke="#7fffd4" stroke-width="0.6" stroke-linejoin="round"/>
<polygon points="1264.7,535.6 1279.5,534.3 1282.0,532.9 1292.6,532.9 1293.4,535.4 1287.9,537.7 1265.1,537.7" fill="#87ceeb" stroke="#87ceeb" stroke-width="0.4" stroke-linejoin="round"/>
<polygon points="1298.5,536.0 1301.5,534.8 1306.1,536.0 1305.7,537.7 1298.9,537.7" fill="#87ceeb" stroke="#87ceeb" stroke-width="0.4" stroke-linejoin="round"/>
<polygon points="1279.3,536.0 1282.0,534.9 1285.8,535.4 1287.1,536.9 1285.4,538.0 1281.2,538.0" fill="#32cd32" stroke="#32cd32" stroke-width="0.3" stroke-linejoin="round"/>
<polygon points="1302.3,536.0 1304.7,536.0 1303.5,537.3" fill="#32cd32" stroke="#32cd32" stroke-width="0.3" stroke-linejoin="round"/>
<polygon points="1291.8,475.7 1297.5,472.6 1305.6,475.7 1304.6,480.3 1297.5,480.8 1292.4,478.7" fill="#7fffd4" stroke="#7fffd4" stroke-width="1.2" stroke-linejoin="round"/>
<polygon points="1298.5,475.7 1303.6,476.3 1303.2,479.1 1299.1,479.1" fill="#87ceeb" stroke="#87ceeb" stroke-width="0.5" stroke-linejoin="round"/>
<polygon points="1291.4,484.8 1297.5,483.8 1298.5,487.9 1292.4,488.9" fill="#7fffd4" stroke="#7fffd4" stroke-width="1.2" stroke-linejoin="round"/>
<polygon points="1269.5,494.6 1272.7,491.9 1275.2,495.0 1272.7,498.0" fill="#7fffd4" stroke="#7fffd4" stroke-width="1.2" stroke-linejoin="round"/>
<polygon points="1416.8,438.5 1422.3,437.1 1427.4,441.2 1425.4,445.2 1420.3,442.6" fill="#7fffd4" stroke="#7fffd4" stroke-width="1.2" stroke-linejoin="round"/>
<polygon points="1420.9,439.7 1425.4,441.8 1424.4,443.8 1421.3,441.8" fill="#87ceeb" stroke="#87ceeb" stroke-width="0.4" stroke-linejoin="round"/>
<polygon points="1367.5,456.8 1375.6,456.8 1375.6,459.4 1368.1,459.4" fill="#7fffd4" stroke="#7fffd4" stroke-width="1.2" stroke-linejoin="round"/>
<polygon points="1377.7,460.5 1382.7,460.0 1382.7,462.5 1378.3,462.5" fill="#7fffd4" stroke="#7fffd4" stroke-width="1.2" stroke-linejoin="round"/>
<polygon points="1386.8,460.0 1389.2,460.5 1389.2,462.5 1387.2,462.5" fill="#7fffd4" stroke="#7fffd4" stroke-width="1.2" stroke-linejoin="round"/>
<polygon points="1377.7,516.7 1382.7,516.3 1382.3,518.9 1378.3,519.3" fill="#7fffd4" stroke="#7fffd4" stroke-width="1.2" stroke-linejoin="round"/>
<ellipse cx="1406.1" cy="505.9" rx="0.9" ry="0.9" fill="#7fffd4" transform="rotate(0 1406.1 505.9)"/>
<ellipse cx="1368.5" cy="483.8" rx="2.4" ry="2.4" fill="#7fffd4" transform="rotate(0 1368.5 483.8)"/>
<ellipse cx="1368.5" cy="483.8" rx="1.7" ry="1.7" fill="#ffd700" transform="rotate(0 1368.5 483.8)"/>
<ellipse cx="1368.5" cy="483.8" rx="1.0" ry="1.0" fill="#0000ff" transform="rotate(0 1368.5 483.8)"/>
<ellipse cx="1325.1" cy="430.4" rx="1.2" ry="1.2" fill="#7fffd4" transform="rotate(0 1325.1 430.4)"/>
<ellipse cx="828.3" cy="198.0" rx="1.0" ry="1.0" fill="#7fffd4" transform="rotate(0 828.3 198.0)"/>
<ellipse cx="835.0" cy="238.7" rx="1.2" ry="1.2" fill="#7fffd4" transform="rotate(0 835.0 238.7)"/>
<ellipse cx="888.3" cy="200.3" rx="1.0" ry="1.0" fill="#7fffd4" transform="rotate(0 888.3 200.3)"/>
<path d="M918.5,333.2 L923.0,337.0" fill="none" stroke="#7fffd4" stroke-width="3.2" stroke-linecap="round" stroke-linejoin="round"/>
<ellipse cx="922.3" cy="336.5" rx="1.3" ry="1.3" fill="#32cd32" transform="rotate(0 922.3 336.5)"/>
<ellipse cx="922.3" cy="336.5" rx="0.7" ry="0.7" fill="#ffd700" transform="rotate(0 922.3 336.5)"/>
<path d="M987.5,256.5 L994.0,263.5" fill="none" stroke="#7fffd4" stroke-width="4.2" stroke-linecap="round" stroke-linejoin="round"/>
<path d="M989.0,258.5 L993.5,263.0" fill="none" stroke="#32cd32" stroke-width="2.8" stroke-linecap="round" stroke-linejoin="round"/>
<ellipse cx="990.5" cy="260.0" rx="0.9" ry="0.9" fill="#ffd700" transform="rotate(0 990.5 260.0)"/>
<ellipse cx="992.4" cy="262.2" rx="1.0" ry="1.0" fill="#ff00ff" transform="rotate(0 992.4 262.2)"/>
<ellipse cx="992.4" cy="262.2" rx="0.5" ry="0.5" fill="#0000ff" transform="rotate(0 992.4 262.2)"/>
<ellipse cx="1310.0" cy="352.8" rx="1.1" ry="1.1" fill="#7fffd4" transform="rotate(0 1310.0 352.8)"/>
<ellipse cx="1312.8" cy="350.3" rx="1.1" ry="1.1" fill="#7fffd4" transform="rotate(0 1312.8 350.3)"/>
<g fill="none" stroke="#3d3d3d" stroke-width="1.5" stroke-linejoin="round" stroke-linecap="round">
<path d="M80.0,9.8 C80.3,10.9 81.9,14.1 81.6,16.3 C81.3,18.5 79.2,21.3 78.3,22.9 C77.4,24.5 76.2,24.5 76.2,26.1 C76.2,27.7 77.2,31.2 78.3,32.6 C79.4,34.0 82.0,34.4 82.7,34.8" stroke="#8c8c8c" stroke-width="1.1"/>
<path d="M82.7,34.8 C82.3,35.3 81.6,36.9 80.5,38.0 C79.4,39.1 76.9,40.8 76.2,41.3" stroke="#8c8c8c" stroke-width="1.1"/>
<path d="M82.7,34.8 C83.2,33.9 84.9,30.2 86.0,29.4 C87.1,28.6 87.8,29.1 89.2,29.9 C90.7,30.7 92.7,33.6 94.7,34.3 C96.7,35.0 99.0,34.0 101.2,34.3 C103.4,34.6 105.7,35.4 107.7,35.9 C109.7,36.4 111.7,37.1 113.2,37.0 C114.8,36.9 117.0,35.9 117.0,35.4 C117.0,34.9 114.8,34.7 113.2,34.3 C111.7,33.9 108.2,33.8 107.7,33.2 C107.2,32.6 108.8,31.1 109.9,30.5 C111.0,29.9 112.5,29.2 114.3,29.4 C116.1,29.6 118.6,31.0 120.8,31.6 C123.0,32.2 125.9,32.1 127.3,33.2 C128.7,34.3 127.5,35.9 128.9,38.1 C130.3,40.3 133.4,45.3 136.0,46.2 C138.6,47.1 142.1,44.0 144.7,43.5 C147.2,43.0 148.8,44.3 151.3,43.0 C153.9,41.7 156.3,39.4 160.0,35.9 C163.7,32.4 167.8,24.2 173.3,21.7 C178.9,19.2 188.6,22.0 193.3,20.7 C198.0,19.4 198.6,15.4 201.7,14.0 C204.8,12.6 209.5,10.7 211.7,12.0 C213.9,13.3 213.6,19.5 215.0,21.7 C216.4,23.9 218.9,20.0 220.0,25.0 C221.1,30.0 220.6,46.4 221.7,51.7 C222.8,57.0 225.4,54.2 226.7,56.7 C228.0,59.2 228.5,65.9 229.3,66.7 C230.1,67.5 229.4,63.5 231.7,61.7 C234.0,59.9 240.8,56.0 243.3,56.0 C245.8,56.0 246.4,56.6 246.7,61.7 C247.0,66.8 244.7,83.4 245.0,86.7 C245.3,90.0 246.2,83.2 248.3,81.7 C250.4,80.2 256.1,78.4 257.7,77.7"/>
<path d="M170.7,10.0 L174.0,20.7"/>
<path d="M235.7,10.0 C236.9,12.5 241.1,21.1 242.7,25.0 C244.2,28.9 242.5,24.5 245.0,33.3 C247.5,42.1 255.6,70.3 257.7,77.7" stroke-width="1.15"/>
<path d="M311.7,10.0 C310.9,11.4 308.9,14.7 306.7,18.3 C304.5,21.9 300.5,27.5 298.3,31.7 C296.1,35.9 294.2,39.7 293.3,43.3 C292.4,46.9 292.7,50.5 292.7,53.3 C292.7,56.1 294.3,57.2 293.3,60.0 C292.3,62.8 290.0,68.7 286.7,70.0 C283.4,71.3 277.8,67.6 273.3,67.7 C268.9,67.8 262.6,69.0 260.0,70.7 C257.4,72.4 258.1,76.5 257.7,77.7"/>
<path d="M245.0,86.7 C245.1,89.8 247.6,100.3 245.7,105.0 C243.8,109.7 235.9,112.0 233.3,115.0 C230.7,118.0 231.9,118.3 230.0,123.3 C228.1,128.3 222.7,140.6 221.7,145.0 C220.7,149.4 222.6,149.2 224.0,150.0 C225.4,150.8 229.6,148.6 230.0,150.0 C230.4,151.4 228.9,153.0 226.7,158.3 C224.5,163.6 220.0,176.4 216.7,181.7 C213.4,187.0 209.8,188.2 206.7,190.0 C203.6,191.8 200.0,191.5 198.3,192.7 C196.6,193.9 197.2,194.1 196.7,197.0 C196.1,199.9 194.4,207.5 195.0,210.3 C195.6,213.1 198.7,212.0 200.0,213.7 C201.3,215.4 201.5,219.2 202.7,220.3 C203.9,221.4 206.8,218.6 207.3,220.3 C207.9,222.0 207.2,227.2 206.0,230.3 C204.8,233.4 202.6,235.6 200.0,238.7 C197.4,241.8 192.2,245.6 190.7,248.7 C189.1,251.8 191.4,253.9 190.7,257.0 C190.0,260.1 188.0,264.4 186.7,267.0 C185.4,269.6 184.4,271.3 182.7,272.7 C181.0,274.1 177.7,274.3 176.7,275.3 C175.7,276.3 176.1,277.5 176.7,278.7 C177.2,279.9 179.4,282.0 180.0,282.7"/>
<path d="M76.0,310.3 C79.2,308.1 90.3,299.9 95.0,297.0 C99.7,294.1 101.5,294.9 104.0,293.0 C106.5,291.1 107.0,287.0 110.0,285.3 C113.0,283.6 117.5,283.2 121.7,283.0 C125.9,282.8 125.3,284.1 135.0,284.0 C144.7,283.9 171.1,283.5 180.0,282.7 C188.9,281.9 185.8,279.7 188.3,279.3 C190.8,278.9 193.5,279.7 195.0,280.3 C196.5,280.9 195.4,282.3 197.3,283.0 C199.2,283.7 204.5,283.2 206.7,284.3 C208.9,285.4 209.6,288.1 210.7,289.7 C211.8,291.3 212.0,290.5 213.3,293.7 C214.6,296.9 216.4,304.4 218.3,308.7 C220.2,313.0 222.8,317.2 225.0,319.7 C227.2,322.2 229.1,322.5 231.7,323.7 C234.3,324.9 239.2,326.4 240.7,327.0"/>
<path d="M240.7,327.0 C239.8,328.1 236.8,330.4 235.0,333.7 C233.2,337.0 231.4,343.9 230.0,347.0 C228.6,350.1 228.4,350.1 226.7,352.0 C225.0,353.9 222.2,356.5 220.0,358.7 C217.8,360.9 216.1,362.9 213.3,365.3 C210.5,367.7 206.4,370.5 203.3,373.0 C200.2,375.5 197.1,377.7 195.0,380.3 C192.9,382.9 191.7,386.4 190.7,388.7 C189.7,391.0 189.8,390.6 189.0,394.0 C188.2,397.4 186.1,405.7 186.0,409.0 C185.9,412.3 185.7,412.2 188.3,414.0 C190.9,415.8 198.1,417.7 201.7,419.7 C205.3,421.7 207.8,424.8 210.0,426.0 C212.2,427.2 211.4,426.8 215.0,426.7 C218.6,426.6 228.1,425.5 231.7,425.7 C235.3,425.9 235.4,426.9 236.7,428.0 C238.0,429.1 238.9,429.6 239.3,432.3 C239.7,435.0 239.3,440.4 239.0,444.0 C238.7,447.6 238.6,450.9 237.7,454.0 C236.8,457.1 234.3,459.2 233.3,462.3 C232.3,465.4 231.4,469.4 231.7,472.3 C232.0,475.2 233.2,477.5 235.0,480.0 C236.8,482.5 240.9,485.1 242.7,487.3 C244.5,489.5 244.2,491.7 246.0,493.0 C247.8,494.3 250.4,494.7 253.3,495.0 C256.2,495.3 260.2,495.1 263.3,494.7 C266.4,494.2 269.8,492.5 271.7,492.3 C273.6,492.1 274.2,492.5 275.0,493.3 C275.8,494.1 276.2,493.7 276.3,497.3 C276.4,500.9 275.1,510.8 275.7,514.7 C276.3,518.6 278.7,518.7 280.0,520.7 C281.3,522.7 281.5,524.8 283.3,526.7 C285.1,528.6 288.8,528.8 290.7,532.3 C292.6,535.8 294.3,545.4 295.0,548.0"/>
<path d="M240.7,327.0 C242.0,326.2 246.2,323.6 248.3,322.0 C250.4,320.4 251.1,318.7 253.3,317.7 C255.5,316.7 259.5,316.0 261.7,316.0 C263.9,316.0 264.6,316.4 266.7,317.7 C268.8,319.0 272.5,321.6 274.0,323.7 C275.5,325.8 274.7,328.0 275.7,330.3 C276.7,332.6 278.4,335.9 280.0,337.7 C281.6,339.5 283.3,340.3 285.0,341.0 C286.7,341.7 288.1,342.1 290.0,342.0 C291.9,341.9 292.5,341.9 296.7,340.3 C300.9,338.8 310.0,334.5 315.0,332.7 C320.0,330.9 323.6,330.3 326.7,329.7 C329.8,329.1 331.1,329.0 333.3,329.0 C335.5,329.0 337.8,329.8 340.0,329.7 C342.2,329.6 342.0,329.9 346.7,328.7 C351.4,327.5 364.4,325.8 368.3,322.7 C372.2,319.6 368.6,313.8 370.0,310.3 C371.4,306.9 373.6,304.8 376.7,302.0 C379.8,299.2 385.5,296.5 388.3,293.7 C391.1,290.9 391.6,289.5 393.3,285.3 C395.0,281.1 396.4,272.9 398.3,268.7 C400.2,264.5 402.5,262.4 405.0,260.3 C407.5,258.2 406.2,259.5 413.3,256.3 C420.4,253.1 441.5,244.7 447.7,241.0 C453.9,237.3 448.9,236.9 450.7,234.3 C452.5,231.7 454.8,230.4 458.3,225.3 C461.8,220.2 469.0,208.4 471.7,203.7 C474.4,199.0 472.5,202.2 474.3,197.0 C476.1,191.8 480.1,177.0 482.7,172.3 C485.3,167.6 487.1,170.1 490.0,169.0 C492.9,167.9 495.8,167.2 500.0,166.0 C504.2,164.8 510.7,163.8 515.0,161.7 C519.3,159.6 524.2,154.7 526.0,153.3"/>
<path d="M606.7,10.0 C603.9,11.4 594.5,16.1 590.0,18.3 C585.5,20.5 583.3,21.1 580.0,23.3 C576.7,25.5 572.1,29.2 570.0,31.7 C567.9,34.2 567.0,35.8 567.3,38.3 C567.6,40.8 570.2,43.6 571.7,46.7 C573.2,49.8 576.3,52.8 576.0,56.7 C575.7,60.6 571.3,66.1 570.0,70.0 C568.7,73.9 566.9,77.3 568.3,80.0 C569.7,82.7 578.3,83.8 578.3,86.0 C578.3,88.2 571.1,91.2 568.3,93.3 C565.5,95.3 564.8,96.1 561.7,98.3 C558.7,100.5 553.1,103.9 550.0,106.7 C546.9,109.5 546.1,112.0 543.3,115.0 C540.5,118.0 536.1,122.0 533.3,125.0 C530.5,128.1 529.2,130.8 526.7,133.3 C524.2,135.8 518.9,137.8 518.3,140.0 C517.7,142.2 522.0,144.5 523.3,146.7 C524.6,148.9 526.5,149.7 526.0,153.3 C525.5,156.9 519.3,165.5 520.0,168.3 C520.7,171.1 522.2,169.4 530.0,170.0 C537.8,170.6 556.7,171.9 566.7,171.7 C576.7,171.5 584.5,169.0 590.0,169.0 C595.5,169.0 596.1,170.7 600.0,171.7 C603.9,172.7 610.8,173.3 613.3,175.0 C615.8,176.7 613.6,180.0 615.0,181.7 C616.4,183.4 620.3,183.3 621.7,185.0 C623.1,186.7 623.3,189.7 623.3,191.7 C623.3,193.7 622.0,196.1 621.7,197.0"/>
<path d="M566.7,171.7 C567.2,172.2 570.3,173.3 570.0,175.0 C569.7,176.7 565.3,179.8 565.0,181.7 C564.7,183.6 566.6,185.6 568.3,186.7 C570.0,187.8 574.2,186.6 575.0,188.3 C575.8,190.0 573.3,194.4 573.3,197.0 C573.3,199.6 575.5,201.5 575.0,203.7 C574.5,205.9 569.7,208.0 570.0,210.3 C570.3,212.6 573.4,217.2 576.7,217.7 C580.0,218.1 586.7,213.6 590.0,213.0 C593.3,212.4 594.2,212.8 596.7,214.3 C599.2,215.8 601.4,220.4 605.0,222.0 C608.6,223.6 614.1,223.9 618.3,223.7 C622.5,223.5 627.2,220.2 630.0,221.0 C632.8,221.8 633.9,226.0 635.0,228.7 C636.1,231.4 635.2,234.2 636.7,237.0 C638.2,239.8 642.3,241.7 644.0,245.3 C645.7,248.9 645.2,254.2 646.7,258.7 C648.2,263.1 650.5,267.8 653.3,272.0 C656.1,276.2 660.2,281.1 663.3,283.7 C666.4,286.3 668.6,285.5 671.7,287.7 C674.8,289.9 679.2,294.1 681.7,297.0 C684.2,299.9 687.3,303.1 686.7,305.3 C686.1,307.5 679.1,308.5 678.3,310.3 C677.5,312.1 682.1,314.2 681.7,316.3 C681.3,318.4 675.9,320.7 675.7,323.0 C675.5,325.3 677.8,328.6 680.7,330.3 C683.6,332.0 690.5,333.0 693.3,333.0 C696.1,333.0 697.4,333.2 697.3,330.3 C697.2,327.4 691.7,318.4 692.7,315.3 C693.7,312.2 701.2,313.7 703.3,312.0 C705.3,310.3 702.8,305.9 705.0,305.3 C707.2,304.8 714.9,307.3 716.7,308.7 C718.5,310.1 714.9,311.6 716.0,313.7 C717.1,315.8 721.0,321.0 723.3,321.0 C725.6,321.0 726.7,316.9 730.0,313.7 C733.3,310.5 740.2,303.8 743.3,302.0 C746.3,300.2 746.9,301.6 748.3,303.0 C749.7,304.4 751.0,306.3 751.7,310.3 C752.4,314.3 753.1,321.7 752.7,327.0 C752.3,332.3 748.9,339.3 749.3,342.0 C749.7,344.7 753.2,343.9 755.0,343.0 C756.8,342.1 757.0,338.0 760.0,336.3 C763.0,334.6 770.2,333.6 773.3,333.0 C776.3,332.4 777.5,333.0 778.3,333.0"/>
<path d="M621.7,197.0 C622.0,197.7 622.2,200.6 623.3,201.0 C624.4,201.4 627.7,200.4 628.3,199.7 C628.9,199.0 625.9,198.9 626.7,197.0 C627.5,195.1 630.8,190.7 633.3,188.3 C635.8,185.9 638.9,183.2 641.7,182.7 C644.5,182.1 647.0,185.2 650.0,185.0 C653.0,184.8 657.2,182.5 660.0,181.7 C662.8,180.9 664.5,179.4 666.7,180.0 C668.9,180.6 670.8,183.6 673.3,185.0 C675.8,186.4 678.9,188.6 681.7,188.3 C684.5,188.0 687.8,185.5 690.0,183.3 C692.2,181.1 694.3,177.2 695.0,175.0 C695.7,172.8 693.5,171.9 694.0,170.0 C694.5,168.1 697.8,165.2 698.3,163.3 C698.8,161.4 695.6,159.4 696.7,158.3 C697.8,157.2 702.8,157.4 705.0,156.7 C707.2,156.0 708.3,153.3 710.0,154.0 C711.7,154.7 712.8,160.0 715.0,160.7 C717.2,161.4 721.1,159.4 723.3,158.3 C725.5,157.2 728.6,155.1 728.3,154.0 C728.0,152.9 722.5,152.6 721.7,151.7 C720.9,150.8 721.6,149.4 723.3,148.3 C725.0,147.2 729.2,146.5 731.7,145.0 C734.2,143.5 736.4,141.0 738.3,139.3 C740.2,137.6 741.6,134.9 743.3,135.0 C745.0,135.1 747.2,140.3 748.3,140.0 C749.4,139.7 750.0,135.5 750.0,133.3 C750.0,131.1 748.8,128.6 748.3,126.7 C747.8,124.8 748.1,123.9 746.7,121.7 C745.3,119.5 741.1,114.7 740.0,113.3"/>
<path d="M648.3,10.0 C650.8,10.6 659.1,11.5 663.3,13.3 C667.5,15.1 670.8,18.5 673.3,20.7 C675.8,22.9 678.0,25.0 678.3,26.7 C678.6,28.4 673.0,26.0 675.0,30.7 C677.0,35.4 686.7,49.6 690.0,55.0 C693.3,60.4 692.8,61.6 695.0,63.3 C697.2,65.0 701.1,65.5 703.3,65.0 C705.5,64.5 706.5,59.5 708.3,60.0 C710.1,60.5 711.5,66.3 714.0,68.3 C716.5,70.2 720.9,70.3 723.3,71.7 C725.7,73.1 727.6,74.2 728.3,76.7 C729.0,79.2 726.5,83.9 727.3,86.7 C728.1,89.5 730.9,91.4 733.3,93.3 C735.7,95.2 739.8,96.6 741.7,98.3 C743.7,100.0 745.3,101.3 745.0,103.3 C744.7,105.2 740.8,108.3 740.0,110.0 C739.2,111.7 740.0,112.8 740.0,113.3"/>
<path d="M745.0,103.3 C747.0,104.4 753.1,107.8 756.7,110.0 C760.3,112.2 765.0,114.2 766.7,116.7 C768.4,119.2 765.6,122.5 766.7,125.0 C767.8,127.5 770.0,130.0 773.3,131.7 C776.6,133.4 782.2,134.1 786.7,135.0 C791.2,135.9 797.8,136.9 800.0,137.3"/>
<path d="M800.0,137.3 C802.8,136.1 813.7,132.3 816.7,130.0 C819.8,127.7 818.9,126.1 818.3,123.3 C817.7,120.5 813.3,116.6 813.3,113.3 C813.3,110.0 818.0,106.9 818.3,103.3 C818.6,99.7 814.7,94.8 815.0,91.7 C815.3,88.7 817.5,87.1 820.0,85.0 C822.5,82.9 826.1,81.1 830.0,79.3 C833.9,77.5 838.8,75.5 843.3,74.0 C847.8,72.5 852.2,69.7 856.7,70.0 C861.2,70.3 866.2,74.8 870.1,75.6 C874.0,76.4 876.9,74.9 880.3,75.0 C883.7,75.1 888.2,75.7 890.4,76.0 C892.6,76.3 892.1,76.0 893.5,77.1 C894.9,78.2 896.6,81.6 898.6,82.5 C900.6,83.4 904.2,83.1 905.7,82.5 C907.2,81.9 908.6,81.0 907.7,79.1 C906.9,77.2 899.6,74.7 900.6,71.0 C901.6,67.3 910.4,58.5 913.8,56.8 C917.2,55.1 918.7,58.6 920.9,60.8 C923.1,63.0 925.5,67.3 927.0,70.0 C928.5,72.7 928.1,73.8 930.0,77.0 C931.9,80.2 935.9,87.0 938.1,89.2 C940.3,91.4 941.0,89.0 943.2,90.2 C945.4,91.5 948.9,96.0 951.3,96.7 C953.7,97.4 955.0,94.9 957.4,94.3 C959.8,93.7 963.1,93.1 965.5,93.3 C967.9,93.5 969.4,93.9 971.6,95.3 C973.8,96.7 976.0,99.5 978.7,101.4 C981.4,103.3 985.4,105.5 987.9,106.5 C990.4,107.5 992.0,106.7 994.0,107.5 C996.0,108.3 999.6,109.9 1000.1,111.6 C1000.6,113.3 997.2,115.6 997.0,117.6 C996.8,119.6 996.3,121.9 999.0,123.7 C1001.7,125.5 1008.1,126.7 1013.3,128.3 C1018.5,129.9 1024.4,131.1 1030.0,133.3 C1035.6,135.5 1042.0,139.2 1046.7,141.7 C1051.4,144.2 1055.8,145.8 1058.3,148.3 C1060.8,150.8 1060.3,153.8 1061.7,156.7 C1063.1,159.6 1064.2,164.5 1066.7,165.7 C1069.2,166.9 1074.5,165.1 1076.7,164.0 C1078.9,162.9 1078.3,160.8 1080.0,159.3 C1081.7,157.8 1085.0,158.2 1086.7,155.0 C1088.4,151.8 1088.6,142.2 1090.0,140.0 C1091.4,137.8 1092.5,142.4 1095.0,141.7 C1097.5,141.0 1100.8,136.4 1105.0,136.0 C1109.2,135.6 1114.7,138.4 1120.0,139.3 C1125.3,140.2 1133.1,140.2 1136.7,141.7 C1140.3,143.2 1140.0,145.0 1141.7,148.3 C1143.4,151.6 1144.5,158.9 1146.7,161.7 C1148.9,164.5 1151.7,163.6 1155.0,165.0 C1158.3,166.4 1162.0,167.2 1166.7,170.0 C1171.4,172.8 1179.9,179.5 1183.3,181.7 C1186.7,183.9 1184.9,181.6 1187.1,183.0 C1189.2,184.4 1193.0,188.6 1196.2,190.2 C1199.4,191.8 1203.0,191.0 1206.4,192.6 C1209.8,194.2 1214.1,199.1 1216.5,199.7 C1218.9,200.3 1219.1,196.6 1220.6,196.2 C1222.1,195.8 1224.8,197.1 1225.7,197.3"/>
<path d="M878.3,9.5 C880.0,10.9 887.4,14.4 888.4,18.2 C889.4,22.0 884.9,29.2 884.4,32.4 C883.9,35.6 883.9,35.3 885.4,37.5 C886.9,39.7 893.5,42.9 893.5,45.6 C893.5,48.3 886.1,51.5 885.4,53.7 C884.7,55.9 888.9,56.6 889.4,58.8 C889.9,61.0 888.2,65.0 888.4,66.9 C888.6,68.8 888.4,69.3 890.4,70.0 C892.4,70.7 898.9,70.8 900.6,71.0"/>
<path d="M800.0,137.3 C800.3,138.6 803.4,141.8 801.7,145.0 C800.0,148.2 793.6,153.1 790.0,156.7 C786.4,160.3 782.8,163.4 780.0,166.7 C777.2,170.0 775.2,172.8 773.3,176.7 C771.3,180.6 769.7,186.6 768.3,190.0 C766.9,193.4 765.9,194.4 765.0,197.0 C764.1,199.6 762.4,202.8 762.7,205.3 C763.0,207.8 765.9,207.8 766.7,212.0 C767.5,216.2 767.3,226.5 767.3,230.3 C767.3,234.1 766.5,233.3 766.9,235.0 C767.3,236.7 768.9,239.0 769.6,240.5 C770.3,242.0 771.1,242.9 771.3,243.8 C771.5,244.7 770.3,245.1 770.7,246.0 C771.1,246.9 773.0,248.4 773.5,249.3 C774.0,250.2 773.1,250.1 773.5,251.5 C773.9,252.9 775.2,255.5 776.0,257.5 C776.8,259.5 777.5,261.9 778.4,263.6 C779.3,265.3 780.6,266.2 781.2,267.5 C781.9,268.8 782.5,270.1 782.3,271.3 C782.1,272.5 780.4,273.5 780.1,274.6 C779.8,275.7 780.0,276.8 780.6,277.9 C781.2,279.0 782.4,279.9 784.0,281.0 C785.6,282.1 788.7,283.6 790.0,284.5 C791.3,285.4 791.0,286.0 791.6,286.7 C792.2,287.4 793.5,287.8 793.8,288.9 C794.1,290.0 793.2,291.7 793.3,293.3 C793.4,294.9 793.8,297.2 794.4,298.3 C795.0,299.4 796.8,297.7 796.6,300.0 C796.4,302.3 793.3,308.3 793.3,312.0 C793.3,315.7 797.5,319.2 796.7,322.0 C795.9,324.8 791.4,326.9 788.3,328.7 C785.2,330.5 779.7,330.5 778.3,333.0 C776.9,335.5 779.2,340.0 780.0,343.7 C780.8,347.4 781.3,351.7 783.3,355.3 C785.2,358.9 788.4,362.8 791.7,365.3 C795.0,367.8 800.9,368.1 803.3,370.3 C805.7,372.5 807.4,375.9 806.0,378.7 C804.6,381.5 795.5,384.8 795.0,387.0 C794.5,389.2 800.5,390.8 803.3,392.0 C806.1,393.2 813.9,392.4 811.7,394.0 C809.5,395.6 794.2,399.1 790.0,401.3 C785.8,403.5 787.0,405.5 786.7,407.3 C786.4,409.1 786.4,412.3 788.3,412.3 C790.2,412.3 794.4,409.1 798.3,407.3 C802.2,405.5 807.5,402.0 811.7,401.3 C815.9,400.6 819.1,403.7 823.3,403.3 C827.5,402.9 832.5,399.6 836.7,399.0 C840.9,398.4 845.8,398.9 848.3,400.0 C850.8,401.1 851.1,404.8 851.7,405.7"/>
<path d="M800.0,137.3 C802.0,138.0 807.0,139.5 811.7,141.7 C816.4,143.9 827.2,147.4 828.3,150.7 C829.4,154.0 820.8,158.5 818.3,161.7 C815.8,164.9 813.8,166.9 813.3,170.0 C812.8,173.1 813.9,176.1 815.0,180.0 C816.1,183.9 817.0,191.6 820.0,193.3 C823.0,195.0 829.4,191.4 833.3,190.0 C837.2,188.6 841.3,187.8 843.3,185.0 C845.2,182.2 844.2,175.7 845.0,173.3 C845.8,170.9 846.6,170.1 848.3,170.7 C850.0,171.3 853.0,174.3 855.0,176.7 C857.0,179.1 856.7,181.6 860.0,185.0 C863.3,188.4 870.5,193.6 875.0,197.0 C879.5,200.4 882.2,203.1 886.7,205.3 C891.2,207.5 899.5,208.6 901.7,210.3 C903.9,212.0 902.5,213.5 900.0,215.3 C897.5,217.1 887.5,218.8 886.7,221.0 C885.9,223.2 890.6,226.6 895.0,228.7 C899.4,230.8 908.6,231.8 913.3,233.7 C918.0,235.6 919.7,238.2 923.3,240.3 C926.9,242.4 931.7,244.1 935.0,246.3 C938.3,248.5 939.7,252.8 943.3,253.7 C946.9,254.6 952.2,251.7 956.7,252.0 C961.2,252.3 967.2,254.2 970.0,255.3 C972.8,256.4 971.6,257.6 973.3,258.7 C975.0,259.8 977.2,262.0 980.0,262.0 C982.8,262.0 986.7,258.4 990.0,258.7 C993.3,259.0 996.4,261.8 1000.0,263.7 C1003.6,265.6 1008.4,268.4 1011.7,270.3 C1015.0,272.2 1018.1,275.6 1020.0,275.3 C1021.9,275.0 1020.5,268.7 1023.3,268.7 C1026.1,268.7 1032.5,273.1 1036.7,275.3 C1040.9,277.5 1044.1,279.8 1048.3,282.0 C1052.5,284.2 1057.8,287.0 1061.7,288.7 C1065.6,290.4 1068.7,289.2 1071.7,292.0 C1074.8,294.8 1077.0,302.5 1080.0,305.3 C1083.0,308.1 1086.7,307.0 1090.0,308.7 C1093.3,310.4 1096.1,312.8 1100.0,315.3 C1103.9,317.8 1109.1,321.2 1113.3,323.7 C1117.5,326.2 1121.1,330.0 1125.0,330.3 C1128.9,330.6 1132.0,324.5 1136.7,325.3 C1141.4,326.1 1148.3,332.2 1153.3,335.3 C1158.3,338.4 1162.2,342.5 1166.7,343.7 C1171.2,344.9 1176.7,343.3 1180.0,342.7 C1183.3,342.1 1185.0,338.5 1186.7,340.3 C1188.4,342.1 1187.8,350.6 1190.0,353.7 C1192.2,356.8 1195.0,357.3 1200.0,358.7 C1205.0,360.1 1214.7,360.1 1220.0,362.0 C1225.3,363.9 1228.7,370.6 1231.7,370.3 C1234.8,370.0 1235.2,362.1 1238.3,360.3 C1241.3,358.5 1246.4,359.4 1250.0,359.7 C1253.6,360.0 1256.7,361.2 1260.1,362.3 C1263.5,363.4 1267.6,365.2 1270.3,366.5 C1273.0,367.8 1274.8,368.6 1276.2,369.9 C1277.6,371.2 1277.5,372.0 1278.8,374.1 C1280.1,376.2 1282.2,380.1 1283.8,382.6 C1285.3,385.1 1287.0,386.9 1288.1,389.3 C1289.2,391.7 1289.5,394.7 1290.6,397.0 C1291.7,399.3 1293.1,400.8 1294.8,402.9 C1296.5,405.0 1298.9,407.4 1301.0,409.5 C1303.1,411.6 1305.0,413.9 1307.5,415.6 C1310.0,417.3 1314.5,418.9 1316.0,419.8 C1317.5,420.7 1317.8,420.6 1316.3,421.0 C1314.8,421.4 1309.9,422.0 1307.2,422.0 C1304.5,422.0 1302.0,421.1 1300.0,421.0 C1298.0,420.9 1296.1,420.7 1294.9,421.3 C1293.7,421.9 1293.6,423.6 1292.9,424.6 C1292.2,425.7 1292.4,426.7 1290.9,427.6 C1289.4,428.5 1285.2,430.0 1283.7,430.2 C1282.2,430.4 1282.3,428.6 1281.7,428.6 C1281.1,428.6 1280.3,429.1 1280.1,430.2 C1279.9,431.3 1279.6,434.6 1280.7,435.3 C1281.8,436.0 1285.1,434.2 1286.8,434.3 C1288.5,434.4 1288.7,435.0 1290.9,435.8 C1293.1,436.6 1298.7,438.0 1300.0,439.4 C1301.3,440.8 1298.8,442.5 1299.0,443.9 C1299.2,445.3 1301.3,446.9 1301.0,448.0 C1300.7,449.1 1299.4,449.9 1297.0,450.6 C1294.6,451.3 1288.8,451.4 1286.8,452.1 C1284.8,452.8 1285.3,454.1 1285.2,455.0 C1285.1,455.9 1285.3,456.1 1286.3,457.4 C1287.3,458.6 1289.5,460.8 1291.4,462.5 C1293.3,464.2 1295.1,466.2 1297.5,467.6 C1299.9,469.0 1303.4,469.2 1305.6,470.6 C1307.8,472.0 1308.0,474.2 1310.7,475.7 C1313.4,477.2 1318.6,478.5 1321.8,479.7 C1325.0,480.9 1328.1,481.6 1330.0,482.8 C1331.9,484.0 1332.8,485.5 1333.0,486.8 C1333.2,488.1 1332.5,489.9 1331.0,490.9 C1329.5,491.9 1326.3,493.1 1323.9,492.9 C1321.5,492.7 1319.0,490.6 1316.8,489.9 C1314.6,489.2 1311.5,488.0 1310.7,488.9 C1309.9,489.8 1312.1,493.6 1311.7,495.0 C1311.3,496.4 1309.9,496.8 1308.6,497.0 C1307.2,497.2 1304.6,496.9 1303.6,496.0 C1302.6,495.1 1303.6,492.8 1302.6,491.9 C1301.6,491.0 1299.3,490.4 1297.5,490.9 C1295.7,491.4 1293.5,493.4 1291.5,495.0 C1289.5,496.6 1287.4,498.8 1285.4,500.4 C1283.4,502.0 1281.6,503.1 1279.3,504.5 C1277.0,505.9 1274.5,506.9 1271.8,508.6 C1269.1,510.3 1265.6,513.0 1263.0,514.7 C1260.4,516.4 1258.9,517.2 1256.2,518.8 C1253.5,520.4 1249.4,522.7 1246.7,524.2 C1244.0,525.7 1241.6,526.4 1239.9,527.6 C1238.2,528.9 1237.2,530.4 1236.5,531.7 C1235.8,533.1 1235.8,533.7 1235.8,535.7 C1235.8,537.8 1236.3,541.9 1236.7,544.0 C1237.1,546.1 1238.0,547.5 1238.3,548.2"/>
<path d="M773.5,251.5 C772.7,251.8 770.4,253.0 768.5,253.2 C766.6,253.3 763.5,252.2 761.9,252.4 C760.2,252.6 760.1,253.8 758.6,254.3 C757.1,254.8 754.3,254.8 753.1,255.4 C751.9,256.0 751.8,256.7 751.5,258.1 C751.2,259.5 751.2,262.1 751.5,263.6 C751.8,265.1 753.3,266.2 753.1,266.9 C752.9,267.6 751.0,267.4 750.4,268.0 C749.8,268.6 750.4,270.2 749.8,270.8 C749.1,271.4 747.5,271.1 746.5,271.9 C745.5,272.7 743.8,274.1 743.8,275.5 C743.8,276.9 744.9,279.6 746.5,280.1 C748.1,280.7 752.0,279.4 753.7,278.8 C755.5,278.2 755.6,276.8 757.0,276.8 C758.4,276.8 760.7,278.0 761.9,279.0 C763.1,280.0 763.2,281.9 764.1,282.9 C765.0,283.9 766.1,284.5 767.4,285.1 C768.7,285.7 770.6,286.6 771.8,286.7 C773.0,286.8 774.2,286.3 774.6,285.6 C775.0,284.9 773.4,283.1 774.0,282.3 C774.6,281.5 777.1,281.1 778.4,280.7 C779.7,280.3 781.2,280.2 781.7,280.1"/>
<path d="M735.0,108.0 C735.8,107.7 738.3,106.0 740.0,106.0 C741.7,106.0 744.3,106.8 745.0,108.0 C745.7,109.2 745.2,112.0 744.0,113.0 C742.8,114.0 739.5,114.8 738.0,114.0 C736.5,113.2 735.5,109.0 735.0,108.0"/>
<path d="M851.7,405.7 C850.6,406.2 847.0,407.6 845.0,409.0 C843.0,410.4 841.7,412.3 840.0,414.0 C838.3,415.7 838.3,417.3 835.0,419.0 C831.7,420.7 822.8,422.6 820.0,424.0 C817.2,425.4 820.8,425.8 818.3,427.3 C815.8,428.9 809.4,431.4 805.0,433.3 C800.6,435.2 795.6,437.2 791.7,439.0 C787.8,440.8 784.8,442.1 781.7,444.0 C778.6,445.9 776.4,448.8 773.3,450.7 C770.2,452.6 767.2,453.5 763.3,455.7 C759.4,457.9 753.6,461.2 750.0,464.0 C746.4,466.8 745.0,470.1 741.7,472.3 C738.4,474.5 733.3,475.6 730.0,477.3 C726.7,479.0 723.8,480.1 721.7,482.3 C719.7,484.5 717.7,486.0 717.7,490.7 C717.7,495.4 719.9,506.3 721.7,510.7 C723.5,515.1 725.5,515.5 728.3,517.3 C731.1,519.1 734.7,520.5 738.3,521.3 C741.9,522.1 745.3,522.5 750.0,522.3 C754.7,522.1 762.8,521.3 766.7,520.0 C770.6,518.7 771.1,516.0 773.3,514.7 C775.5,513.4 778.2,512.3 780.0,512.3 C781.8,512.3 783.3,512.8 784.0,514.7 C784.7,516.7 783.5,521.3 784.0,524.0 C784.5,526.7 786.8,528.6 786.7,530.7 C786.6,532.8 785.2,535.5 783.3,536.7 C781.3,537.9 779.4,537.3 775.0,538.0 C770.6,538.7 761.4,539.7 756.7,540.7 C752.0,541.7 748.7,542.8 746.7,544.0 C744.8,545.2 745.3,547.3 745.0,548.0"/>
<path d="M851.7,405.7 C853.1,406.2 856.4,407.9 860.0,409.0 C863.6,410.1 868.8,412.0 873.3,412.3 C877.8,412.6 882.8,410.1 886.7,410.7 C890.6,411.3 893.7,413.5 896.7,415.7 C899.8,417.9 902.5,420.4 905.0,424.0 C907.5,427.6 910.4,433.7 911.7,437.3 C913.0,440.9 913.8,443.5 912.7,445.7 C911.6,447.9 906.6,448.5 905.0,450.7 C903.4,452.9 904.4,455.1 903.3,459.0 C902.2,462.9 900.2,469.6 898.3,474.0 C896.4,478.4 893.6,482.9 891.7,485.7 C889.8,488.5 887.1,490.0 886.7,490.7 C886.3,491.4 889.1,488.8 889.4,490.0 C889.7,491.2 890.7,496.1 888.4,497.9 C886.1,499.7 880.2,499.6 875.6,500.8 C871.0,502.0 863.9,503.2 860.8,504.8 C857.7,506.4 858.4,508.9 856.9,510.7 C855.4,512.5 852.2,513.1 852.0,515.6 C851.8,518.1 854.6,522.7 855.9,525.5 C857.2,528.3 859.6,529.8 859.9,532.4 C860.2,535.0 858.6,538.7 857.9,541.3 C857.2,543.9 856.2,547.1 855.9,548.2"/>
<path d="M880.6,548.2 C880.3,546.4 880.1,541.2 878.6,537.3 C877.1,533.3 872.0,528.1 871.7,524.5 C871.4,520.9 874.5,517.1 876.6,515.6 C878.7,514.1 882.7,514.9 884.5,515.6 C886.3,516.3 886.7,519.8 887.5,519.6 C888.3,519.4 889.4,516.2 889.4,514.6 C889.4,513.0 887.0,510.9 887.5,509.7 C888.0,508.5 891.2,506.9 892.4,507.4 C893.5,507.9 893.6,511.8 894.4,512.7 C895.2,513.6 896.8,513.7 897.3,512.7 C897.8,511.7 896.6,508.0 897.3,506.8 C898.0,505.6 900.3,505.0 901.3,505.8 C902.3,506.6 902.6,510.1 903.2,511.7 C903.9,513.3 905.2,513.6 905.2,515.6 C905.2,517.6 904.4,521.4 903.2,523.5 C902.1,525.6 899.1,526.9 898.3,528.4 C897.5,529.9 897.5,532.2 898.3,532.4 C899.1,532.6 901.7,530.5 903.2,529.4 C904.7,528.2 905.9,525.8 907.2,525.5 C908.5,525.2 910.3,526.5 911.1,527.5 C911.9,528.5 911.0,530.2 912.1,531.4 C913.2,532.5 915.5,534.2 918.0,534.4 C920.5,534.6 924.8,532.6 926.9,532.4 C929.0,532.2 930.5,534.4 930.8,533.4 C931.1,532.4 929.2,528.5 928.9,526.5 C928.6,524.5 928.4,522.8 928.9,521.5 C929.4,520.2 931.1,518.4 931.8,518.6 C932.4,518.8 933.0,521.2 932.8,522.5 C932.6,523.8 930.6,525.5 930.8,526.5 C931.0,527.5 932.0,528.9 933.8,528.4 C935.6,527.9 941.1,523.2 941.7,523.5 C942.4,523.8 939.0,528.3 937.7,530.4 C936.4,532.5 934.3,534.5 933.8,536.3 C933.3,538.0 933.8,540.1 934.8,540.9 C935.8,541.7 938.7,541.7 939.7,540.9 C940.7,540.1 940.0,536.7 940.7,536.3 C941.4,535.9 942.1,538.9 943.7,538.3 C945.4,537.6 948.3,533.1 950.6,532.4 C952.9,531.6 955.2,533.3 957.5,533.8 C959.8,534.3 962.3,534.9 964.4,535.3 C966.5,535.7 968.8,536.8 970.3,536.3 C971.8,535.8 973.0,533.7 973.2,532.4 C973.4,531.1 970.1,529.5 971.3,528.4 C972.4,527.2 977.3,526.8 980.1,525.5 C982.9,524.2 985.5,521.8 988.0,520.6 C990.5,519.5 992.9,519.6 994.9,518.6 C996.9,517.6 998.0,515.2 999.8,514.6 C1001.6,514.0 1004.5,514.1 1005.8,515.2 C1007.1,516.4 1007.1,519.8 1007.7,521.5 C1008.4,523.2 1008.6,524.2 1009.7,525.5 C1010.9,526.8 1013.8,528.1 1014.6,529.4 C1015.4,530.7 1015.8,531.9 1014.6,533.4 C1013.5,534.9 1009.5,537.0 1007.7,538.3 C1005.9,539.5 1004.1,539.8 1003.8,540.9 C1003.5,542.0 1004.2,544.6 1005.8,545.2 C1007.4,545.9 1012.0,545.4 1013.6,544.8 C1015.2,544.2 1014.3,542.0 1015.6,541.7 C1016.9,541.4 1020.8,543.8 1021.5,543.2 C1022.2,542.6 1018.8,539.3 1019.6,538.3 C1020.4,537.3 1025.2,537.9 1026.5,537.3 C1027.8,536.6 1026.6,534.2 1027.4,534.4 C1028.2,534.6 1029.8,537.3 1031.4,538.3 C1033.1,539.3 1035.5,540.6 1037.3,540.3 C1039.1,540.0 1042.5,537.0 1042.2,536.3 C1041.9,535.6 1035.0,536.9 1035.3,536.3 C1035.6,535.6 1042.2,533.4 1044.2,532.4 C1046.2,531.4 1046.4,530.0 1047.2,530.0 C1048.0,530.0 1049.4,530.2 1049.1,532.4 C1048.8,534.6 1046.5,540.6 1045.2,543.2 C1043.9,545.8 1041.9,547.4 1041.2,548.2"/>
<path d="M612.7,548.0 C613.4,547.2 613.9,544.0 616.7,543.0 C619.5,542.0 627.4,540.9 629.3,541.7 C631.2,542.5 628.5,547.0 628.3,548.0"/>
<path d="M1072.8,548.2 C1073.5,547.1 1075.9,543.6 1076.7,541.3 C1077.5,539.0 1076.7,535.8 1077.7,534.4 C1078.7,533.0 1080.9,533.0 1082.6,533.0 C1084.2,533.0 1086.4,533.5 1087.6,534.4 C1088.8,535.3 1088.5,537.8 1089.5,538.3 C1090.5,538.8 1093.2,538.1 1093.5,537.3 C1093.8,536.5 1090.3,534.4 1091.5,533.4 C1092.7,532.4 1098.4,530.4 1100.4,531.4 C1102.4,532.4 1101.4,537.6 1103.4,539.3 C1105.4,541.0 1110.2,540.9 1112.2,541.7 C1114.2,542.5 1113.6,543.9 1115.2,544.2 C1116.8,544.5 1120.3,542.9 1122.1,543.6 C1123.9,544.3 1125.3,547.4 1126.0,548.2"/>
<path d="M1058.3,151.7 C1056.9,151.9 1052.2,151.0 1050.0,152.7 C1047.8,154.4 1048.6,158.5 1045.0,161.7 C1041.4,164.9 1031.9,168.6 1028.3,171.7 C1024.7,174.8 1026.1,177.5 1023.3,180.0 C1020.5,182.5 1013.4,183.9 1011.7,186.7 C1010.0,189.5 1015.2,193.1 1013.3,197.0 C1011.3,200.9 1001.4,205.9 1000.0,210.3 C998.6,214.8 1005.3,219.8 1005.0,223.7 C1004.7,227.6 1000.2,231.2 998.3,233.7 C996.3,236.2 994.7,235.4 993.3,238.7 C991.9,242.0 991.1,250.4 990.0,253.7 C988.9,257.0 987.2,257.9 986.7,258.7" stroke-width="1.67"/>
<path d="M1066.7,165.7 C1065.6,167.0 1060.7,169.8 1060.0,173.3 C1059.3,176.8 1065.5,183.4 1062.7,186.7 C1059.9,190.0 1046.8,191.6 1043.3,193.3 C1039.8,195.0 1041.7,195.3 1041.7,197.0 C1041.7,198.7 1041.9,201.5 1043.3,203.7 C1044.7,205.9 1050.5,207.5 1050.0,210.3 C1049.5,213.1 1044.2,216.7 1040.0,220.3 C1035.8,223.9 1028.2,227.6 1025.0,232.0 C1021.8,236.4 1021.0,240.9 1020.7,247.0 C1020.4,253.1 1022.9,265.1 1023.3,268.7" stroke-width="1.67"/>
<path d="M1080.0,163.3 C1082.0,164.1 1089.2,166.4 1091.7,168.3 C1094.2,170.2 1092.5,174.4 1095.0,175.0 C1097.5,175.6 1102.8,171.7 1106.7,171.7 C1110.6,171.7 1116.9,172.5 1118.3,175.0 C1119.7,177.5 1116.1,183.9 1115.0,186.7 C1113.9,189.5 1111.7,190.0 1111.7,191.7 C1111.7,193.4 1113.9,195.3 1115.0,197.0 C1116.1,198.7 1118.6,199.5 1118.3,202.0 C1118.0,204.5 1114.1,209.5 1113.3,212.0 C1112.5,214.5 1116.3,215.5 1113.3,217.0 C1110.2,218.5 1097.9,218.5 1095.0,221.0 C1092.1,223.5 1094.9,229.1 1096.0,232.0 C1097.1,234.9 1098.8,237.0 1101.7,238.7 C1104.6,240.4 1107.5,241.2 1113.3,242.0 C1119.1,242.8 1130.0,244.6 1136.7,243.7 C1143.4,242.8 1148.9,237.7 1153.3,236.3 C1157.7,234.9 1161.1,234.4 1163.3,235.3 C1165.5,236.2 1164.2,240.3 1166.7,242.0 C1169.2,243.7 1175.2,243.9 1178.3,245.3 C1181.3,246.7 1182.2,248.4 1185.0,250.3 C1187.8,252.2 1190.3,255.3 1195.0,257.0 C1199.7,258.7 1208.8,258.9 1213.3,260.3 C1217.8,261.7 1217.8,265.0 1221.7,265.3 C1225.6,265.6 1232.5,263.1 1236.7,262.0 C1240.9,260.9 1244.2,260.1 1246.7,258.7 C1249.2,257.3 1249.3,258.2 1251.7,253.7 C1254.1,249.2 1261.1,235.8 1261.2,231.8 C1261.3,227.8 1254.0,230.6 1252.1,229.7 C1250.2,228.8 1251.3,228.0 1250.0,226.3 C1248.7,224.6 1245.8,222.1 1244.0,219.6 C1242.2,217.1 1240.7,213.5 1238.9,211.5 C1237.1,209.5 1234.7,208.8 1233.2,207.4 C1231.7,206.1 1231.0,205.1 1229.7,203.4 C1228.5,201.7 1226.4,198.3 1225.7,197.3" stroke-width="1.67"/>
<path d="M1101.7,238.7 C1100.0,238.1 1093.7,234.8 1091.7,235.3 C1089.8,235.9 1089.2,239.2 1090.0,242.0 C1090.8,244.8 1094.8,248.9 1096.7,252.0 C1098.7,255.1 1101.4,258.6 1101.7,260.3 C1102.0,262.0 1100.0,263.4 1098.3,262.0 C1096.6,260.6 1095.3,254.5 1091.7,252.0 C1088.1,249.5 1081.7,247.9 1076.7,247.0 C1071.7,246.1 1064.6,246.0 1061.7,246.3 C1058.8,246.6 1057.6,247.2 1059.3,248.7 C1061.0,250.2 1068.8,253.9 1071.7,255.3 C1074.6,256.7 1075.3,255.3 1076.7,257.0 C1078.1,258.7 1080.8,261.7 1080.0,265.3 C1079.2,268.9 1074.5,274.8 1071.7,278.7 C1068.9,282.6 1064.7,287.0 1063.3,288.7" stroke-width="1.67"/>
<path d="M1178.3,245.3 C1176.4,247.0 1172.0,251.7 1166.7,255.3 C1161.4,258.9 1151.7,263.1 1146.7,267.0 C1141.7,270.9 1139.1,275.1 1136.7,278.7 C1134.3,282.3 1132.6,286.2 1132.3,288.7 C1132.0,291.2 1133.7,292.0 1135.0,293.7 C1136.3,295.4 1139.7,296.5 1140.0,298.7 C1140.3,300.9 1135.6,303.9 1136.7,307.0 C1137.8,310.1 1144.8,314.5 1146.7,317.0 C1148.6,319.5 1149.4,320.6 1148.3,322.0 C1147.2,323.4 1141.4,324.8 1140.0,325.3" stroke-width="1.67"/>
<path d="M1221.7,265.3 C1219.8,266.4 1212.5,269.8 1210.0,272.0 C1207.5,274.2 1207.9,276.5 1206.7,278.7 C1205.5,280.9 1202.7,283.1 1202.7,285.3 C1202.7,287.5 1204.4,289.5 1206.7,292.0 C1209.0,294.5 1216.2,297.5 1216.7,300.3 C1217.2,303.1 1211.4,305.9 1210.0,308.7 C1208.6,311.5 1208.0,314.5 1208.3,317.0 C1208.6,319.5 1213.6,321.8 1211.7,323.7 C1209.8,325.6 1199.8,326.8 1196.7,328.7 C1193.6,330.6 1195.0,333.4 1193.3,335.3 C1191.6,337.2 1187.8,339.5 1186.7,340.3" stroke-width="1.67"/>
<path d="M1216.7,300.3 C1218.4,300.3 1223.7,299.5 1226.7,300.3 C1229.8,301.1 1232.2,303.9 1235.0,305.3 C1237.8,306.7 1240.2,306.8 1243.3,308.7 C1246.3,310.6 1252.7,314.9 1253.3,317.0 C1253.9,319.1 1247.2,320.2 1246.7,321.0 C1246.2,321.8 1246.6,321.0 1250.0,321.7 C1253.4,322.4 1262.7,324.1 1266.9,325.1 C1271.1,326.1 1271.9,327.3 1275.4,327.6 C1278.9,327.9 1284.2,326.4 1288.1,326.8 C1292.0,327.2 1295.6,329.3 1299.0,330.1 C1302.4,330.9 1306.3,330.7 1308.3,331.8 C1310.3,332.9 1309.8,336.0 1310.9,336.9 C1312.0,337.8 1313.8,337.2 1315.1,336.9 C1316.4,336.6 1317.4,335.2 1318.5,335.2 C1319.6,335.2 1322.0,336.0 1321.9,336.9 C1321.8,337.8 1320.1,339.2 1317.7,340.3 C1315.3,341.4 1310.5,342.4 1307.5,343.7 C1304.5,345.0 1302.0,345.9 1299.9,347.9 C1297.8,349.9 1296.1,354.6 1294.8,355.5 C1293.5,356.4 1294.5,353.4 1292.3,353.3 C1290.0,353.2 1283.0,353.5 1281.3,354.7 C1279.6,355.9 1283.2,359.3 1282.1,360.6 C1281.0,361.9 1275.5,360.8 1274.5,362.3 C1273.5,363.9 1275.9,368.6 1276.2,369.9" stroke-width="1.67"/>
<path d="M1282.1,360.6 C1283.1,360.6 1286.0,361.5 1288.1,360.6 C1290.2,359.8 1293.7,356.4 1294.8,355.5" stroke-width="1.67"/>
<path d="M1253.3,317.0 C1255.0,315.1 1260.8,308.4 1263.3,305.3 C1265.8,302.2 1268.3,301.5 1268.3,298.7 C1268.3,295.9 1262.7,292.3 1263.3,288.7 C1263.9,285.1 1270.6,280.6 1271.7,277.0 C1272.8,273.4 1268.6,270.1 1270.0,267.0 C1271.4,263.9 1276.1,260.9 1280.0,258.7 C1283.9,256.5 1289.5,255.1 1293.3,253.7 C1297.1,252.2 1301.0,251.4 1302.8,250.0 C1304.6,248.6 1304.1,246.8 1303.9,245.0 C1303.7,243.2 1303.0,240.8 1301.8,238.9 C1300.6,237.0 1297.5,235.5 1296.8,233.8 C1296.1,232.1 1298.1,230.0 1297.8,228.7 C1297.5,227.3 1296.4,226.6 1294.7,225.7 C1293.0,224.8 1290.1,223.7 1287.6,223.0 C1285.1,222.3 1282.5,221.2 1279.5,221.6 C1276.5,222.0 1272.2,224.7 1269.3,225.7 C1266.4,226.7 1263.5,226.7 1262.2,227.7 C1260.9,228.7 1261.4,231.1 1261.2,231.8" stroke-width="1.67"/>
<path d="M1303.3,250.3 C1305.0,251.4 1310.5,255.1 1313.3,257.0 C1316.1,258.9 1316.7,260.1 1320.0,262.0 C1323.3,263.9 1330.0,266.5 1333.3,268.7 C1336.6,270.9 1337.2,273.6 1340.0,275.3 C1342.8,277.0 1346.7,279.2 1350.0,278.7 C1353.3,278.1 1357.0,273.1 1360.0,272.0 C1363.0,270.9 1365.8,271.2 1368.3,272.0 C1370.8,272.8 1375.0,274.5 1375.0,277.0 C1375.0,279.5 1369.4,283.9 1368.3,287.0 C1367.2,290.1 1365.8,293.4 1368.3,295.3 C1370.8,297.2 1378.6,298.4 1383.3,298.7 C1388.0,299.0 1392.2,297.0 1396.7,297.0 C1401.2,297.0 1407.2,299.2 1410.0,298.7 C1412.8,298.1 1412.2,293.7 1413.3,293.7 C1414.4,293.7 1414.8,296.5 1416.7,298.7 C1418.7,300.9 1422.5,304.2 1425.0,307.0 C1427.5,309.8 1430.0,312.2 1431.7,315.3 C1433.4,318.4 1433.1,323.6 1435.0,325.3 C1436.9,327.0 1442.2,327.0 1443.3,325.3 C1444.4,323.6 1440.6,318.4 1441.7,315.3 C1442.8,312.2 1448.2,307.6 1450.0,307.0 C1451.8,306.4 1452.2,311.2 1452.7,312.0" stroke-width="1.67"/>
<path d="M1443.3,325.3 C1442.8,326.1 1441.4,327.2 1440.0,330.3 C1438.6,333.4 1437.2,339.8 1435.0,343.7 C1432.8,347.6 1428.7,350.9 1426.7,353.7 C1424.8,356.5 1425.2,358.4 1423.3,360.3 C1421.3,362.2 1418.8,364.4 1415.0,365.3 C1411.2,366.2 1404.0,366.1 1400.5,365.7 C1397.0,365.3 1396.6,364.4 1393.8,363.1 C1391.0,361.8 1385.9,360.4 1383.6,358.1 C1381.3,355.9 1381.2,352.0 1380.2,349.6 C1379.2,347.2 1380.2,345.1 1377.7,343.7 C1375.2,342.3 1369.4,341.2 1365.0,341.1 C1360.6,341.0 1354.9,342.9 1351.5,342.8 C1348.1,342.7 1347.1,341.3 1344.7,340.3 C1342.3,339.3 1338.8,338.6 1337.1,336.9 C1335.4,335.2 1333.8,331.8 1334.6,330.1 C1335.4,328.4 1341.1,328.1 1342.2,326.8 C1343.3,325.5 1340.9,323.6 1341.3,322.5 C1341.7,321.4 1343.2,321.5 1344.7,320.0 C1346.2,318.5 1346.9,316.7 1350.0,313.7 C1353.1,310.7 1360.2,305.1 1363.3,302.0 C1366.3,298.9 1367.5,296.4 1368.3,295.3" stroke-width="1.67"/>
<path d="M1318.5,335.2 C1318.9,334.8 1318.9,334.0 1321.0,332.7 C1323.1,331.4 1328.9,328.0 1331.2,327.6 C1333.5,327.2 1334.0,329.7 1334.6,330.1" stroke-width="1.67"/>
<path d="M1294.8,355.5 C1295.8,356.4 1298.6,358.9 1300.7,360.6 C1302.8,362.3 1304.7,364.4 1307.5,365.7 C1310.3,367.0 1313.9,367.5 1317.7,368.2 C1321.5,368.9 1327.3,368.8 1330.3,369.9 C1333.2,371.0 1334.4,372.9 1335.4,375.0 C1336.5,377.1 1336.8,379.8 1336.6,382.6 C1336.4,385.4 1333.4,389.9 1334.2,391.9 C1335.0,393.9 1339.1,394.1 1341.3,394.4 C1343.5,394.7 1345.3,393.2 1347.3,393.6 C1349.3,394.0 1351.1,395.4 1353.2,397.0 C1355.3,398.6 1357.7,401.3 1359.9,402.9 C1362.2,404.4 1364.4,405.7 1366.7,406.3 C1369.0,406.9 1372.0,405.5 1373.5,406.3 C1375.0,407.1 1374.3,410.0 1376.0,411.3 C1377.7,412.6 1381.5,413.6 1383.6,413.9 C1385.7,414.2 1386.4,413.6 1388.7,413.0 C1391.0,412.4 1394.4,411.4 1397.5,410.2 C1400.6,409.0 1404.5,405.9 1407.4,405.7 C1410.3,405.4 1413.5,406.7 1415.0,408.7 C1416.5,410.7 1415.6,415.4 1416.5,417.9 C1417.4,420.4 1418.9,422.2 1420.3,423.9 C1421.7,425.5 1423.1,427.9 1424.9,427.8 C1426.7,427.7 1428.7,424.4 1431.0,423.2 C1433.3,422.0 1436.3,421.0 1438.6,420.9 C1440.9,420.8 1442.9,421.6 1444.7,422.4 C1446.5,423.2 1447.8,424.9 1449.2,425.5 C1450.6,426.1 1452.4,426.1 1453.0,426.2" stroke-width="1.67"/>
<path d="M1400.5,365.7 C1399.8,366.4 1396.3,367.9 1396.3,369.9 C1396.3,371.9 1400.1,374.8 1400.5,377.5 C1400.9,380.2 1399.9,383.2 1398.8,386.0 C1397.7,388.8 1395.2,391.3 1393.8,394.4 C1392.4,397.5 1391.2,401.5 1390.4,404.6 C1389.6,407.7 1389.0,411.6 1388.7,413.0" stroke-width="1.67"/>
<path d="M1453.0,399.6 C1452.5,399.9 1450.5,399.3 1450.0,401.1 C1449.5,402.9 1449.8,407.3 1450.0,410.2 C1450.2,413.1 1451.6,416.1 1451.5,418.6 C1451.4,421.2 1449.6,424.4 1449.2,425.5" stroke-width="1.67"/>
</g>
</g>
<rect x="75.55" y="9.48" width="1377.8500000000001" height="538.87" fill="none" stroke="#000" stroke-width="1.1"/>
<line x1="75.5" y1="548.35" x2="75.5" y2="559.35" stroke="#000" stroke-width="2.78"/>
<text transform="translate(52.65,577.70) scale(1.1353,1)" x="0.09 9.27 18.40 22.95 29.93" y="0" font-size="18">68 °E</text>
<line x1="227.0" y1="548.35" x2="227.0" y2="559.35" stroke="#000" stroke-width="2.78"/>
<text transform="translate(204.09,577.70) scale(1.1353,1)" x="0.09 9.27 18.40 22.95 29.93" y="0" font-size="18">70 °E</text>
<line x1="378.4" y1="548.35" x2="378.4" y2="559.35" stroke="#000" stroke-width="2.78"/>
<text transform="translate(355.52,577.70) scale(1.1353,1)" x="0.09 9.27 18.40 22.95 29.93" y="0" font-size="18">72 °E</text>
<line x1="529.9" y1="548.35" x2="529.9" y2="559.35" stroke="#000" stroke-width="2.78"/>
<text transform="translate(506.96,577.70) scale(1.1353,1)" x="0.09 9.27 18.40 22.95 29.93" y="0" font-size="18">74 °E</text>
<line x1="681.3" y1="548.35" x2="681.3" y2="559.35" stroke="#000" stroke-width="2.78"/>
<text transform="translate(658.39,577.70) scale(1.1353,1)" x="0.09 9.27 18.40 22.95 29.93" y="0" font-size="18">76 °E</text>
<line x1="832.7" y1="548.35" x2="832.7" y2="559.35" stroke="#000" stroke-width="2.78"/>
<text transform="translate(809.83,577.70) scale(1.1353,1)" x="0.09 9.27 18.40 22.95 29.93" y="0" font-size="18">78 °E</text>
<line x1="984.2" y1="548.35" x2="984.2" y2="559.35" stroke="#000" stroke-width="2.78"/>
<text transform="translate(961.27,577.70) scale(1.1353,1)" x="0.09 9.27 18.40 22.95 29.93" y="0" font-size="18">80 °E</text>
<line x1="1135.6" y1="548.35" x2="1135.6" y2="559.35" stroke="#000" stroke-width="2.78"/>
<text transform="translate(1112.70,577.70) scale(1.1353,1)" x="0.09 9.27 18.40 22.95 29.93" y="0" font-size="18">82 °E</text>
<line x1="1287.0" y1="548.35" x2="1287.0" y2="559.35" stroke="#000" stroke-width="2.78"/>
<text transform="translate(1264.14,577.70) scale(1.1353,1)" x="0.09 9.27 18.40 22.95 29.93" y="0" font-size="18">84 °E</text>
<line x1="1438.5" y1="548.35" x2="1438.5" y2="559.35" stroke="#000" stroke-width="2.78"/>
<text transform="translate(1415.57,577.70) scale(1.1353,1)" x="0.09 9.27 18.40 22.95 29.93" y="0" font-size="18">86 °E</text>
<line x1="113.4" y1="548.35" x2="113.4" y2="552.15" stroke="#000" stroke-width="0.9"/>
<line x1="151.3" y1="548.35" x2="151.3" y2="552.15" stroke="#000" stroke-width="0.9"/>
<line x1="189.1" y1="548.35" x2="189.1" y2="552.15" stroke="#000" stroke-width="0.9"/>
<line x1="264.8" y1="548.35" x2="264.8" y2="552.15" stroke="#000" stroke-width="0.9"/>
<line x1="302.7" y1="548.35" x2="302.7" y2="552.15" stroke="#000" stroke-width="0.9"/>
<line x1="340.6" y1="548.35" x2="340.6" y2="552.15" stroke="#000" stroke-width="0.9"/>
<line x1="416.3" y1="548.35" x2="416.3" y2="552.15" stroke="#000" stroke-width="0.9"/>
<line x1="454.1" y1="548.35" x2="454.1" y2="552.15" stroke="#000" stroke-width="0.9"/>
<line x1="492.0" y1="548.35" x2="492.0" y2="552.15" stroke="#000" stroke-width="0.9"/>
<line x1="567.7" y1="548.35" x2="567.7" y2="552.15" stroke="#000" stroke-width="0.9"/>
<line x1="605.6" y1="548.35" x2="605.6" y2="552.15" stroke="#000" stroke-width="0.9"/>
<line x1="643.4" y1="548.35" x2="643.4" y2="552.15" stroke="#000" stroke-width="0.9"/>
<line x1="719.2" y1="548.35" x2="719.2" y2="552.15" stroke="#000" stroke-width="0.9"/>
<line x1="757.0" y1="548.35" x2="757.0" y2="552.15" stroke="#000" stroke-width="0.9"/>
<line x1="794.9" y1="548.35" x2="794.9" y2="552.15" stroke="#000" stroke-width="0.9"/>
<line x1="870.6" y1="548.35" x2="870.6" y2="552.15" stroke="#000" stroke-width="0.9"/>
<line x1="908.4" y1="548.35" x2="908.4" y2="552.15" stroke="#000" stroke-width="0.9"/>
<line x1="946.3" y1="548.35" x2="946.3" y2="552.15" stroke="#000" stroke-width="0.9"/>
<line x1="1022.0" y1="548.35" x2="1022.0" y2="552.15" stroke="#000" stroke-width="0.9"/>
<line x1="1059.9" y1="548.35" x2="1059.9" y2="552.15" stroke="#000" stroke-width="0.9"/>
<line x1="1097.7" y1="548.35" x2="1097.7" y2="552.15" stroke="#000" stroke-width="0.9"/>
<line x1="1173.5" y1="548.35" x2="1173.5" y2="552.15" stroke="#000" stroke-width="0.9"/>
<line x1="1211.3" y1="548.35" x2="1211.3" y2="552.15" stroke="#000" stroke-width="0.9"/>
<line x1="1249.2" y1="548.35" x2="1249.2" y2="552.15" stroke="#000" stroke-width="0.9"/>
<line x1="1324.9" y1="548.35" x2="1324.9" y2="552.15" stroke="#000" stroke-width="0.9"/>
<line x1="1362.8" y1="548.35" x2="1362.8" y2="552.15" stroke="#000" stroke-width="0.9"/>
<line x1="1400.6" y1="548.35" x2="1400.6" y2="552.15" stroke="#000" stroke-width="0.9"/>
<line x1="64.55" y1="546.7" x2="75.55" y2="546.7" stroke="#000" stroke-width="2.78"/>
<text transform="translate(10.50,554.00) scale(1.1171,1)" x="0.08 9.24 18.36 22.90 29.90" y="0" font-size="18">25 °N</text>
<line x1="64.55" y1="471.1" x2="75.55" y2="471.1" stroke="#000" stroke-width="2.78"/>
<text transform="translate(10.50,478.00) scale(1.1171,1)" x="0.08 9.24 18.36 22.90 29.90" y="0" font-size="18">26 °N</text>
<line x1="64.55" y1="395.5" x2="75.55" y2="395.5" stroke="#000" stroke-width="2.78"/>
<text transform="translate(10.50,402.00) scale(1.1171,1)" x="0.08 9.24 18.36 22.90 29.90" y="0" font-size="18">27 °N</text>
<line x1="64.55" y1="319.9" x2="75.55" y2="319.9" stroke="#000" stroke-width="2.78"/>
<text transform="translate(10.50,326.00) scale(1.1171,1)" x="0.08 9.24 18.36 22.90 29.90" y="0" font-size="18">28 °N</text>
<line x1="64.55" y1="244.3" x2="75.55" y2="244.3" stroke="#000" stroke-width="2.78"/>
<text transform="translate(10.50,251.00) scale(1.1171,1)" x="0.08 9.24 18.36 22.90 29.90" y="0" font-size="18">29 °N</text>
<line x1="64.55" y1="168.7" x2="75.55" y2="168.7" stroke="#000" stroke-width="2.78"/>
<text transform="translate(10.50,175.00) scale(1.1171,1)" x="0.08 9.24 18.36 22.90 29.90" y="0" font-size="18">30 °N</text>
<line x1="64.55" y1="93.1" x2="75.55" y2="93.1" stroke="#000" stroke-width="2.78"/>
<text transform="translate(10.50,100.00) scale(1.1171,1)" x="0.08 9.24 18.36 22.90 29.90" y="0" font-size="18">31 °N</text>
<line x1="64.55" y1="17.5" x2="75.55" y2="17.5" stroke="#000" stroke-width="2.78"/>
<text transform="translate(10.50,24.00) scale(1.1171,1)" x="0.08 9.24 18.36 22.90 29.90" y="0" font-size="18">32 °N</text>
<line x1="71.75" y1="531.6" x2="75.55" y2="531.6" stroke="#000" stroke-width="0.9"/>
<line x1="71.75" y1="516.4" x2="75.55" y2="516.4" stroke="#000" stroke-width="0.9"/>
<line x1="71.75" y1="501.3" x2="75.55" y2="501.3" stroke="#000" stroke-width="0.9"/>
<line x1="71.75" y1="486.2" x2="75.55" y2="486.2" stroke="#000" stroke-width="0.9"/>
<line x1="71.75" y1="456.0" x2="75.55" y2="456.0" stroke="#000" stroke-width="0.9"/>
<line x1="71.75" y1="440.8" x2="75.55" y2="440.8" stroke="#000" stroke-width="0.9"/>
<line x1="71.75" y1="425.7" x2="75.55" y2="425.7" stroke="#000" stroke-width="0.9"/>
<line x1="71.75" y1="410.6" x2="75.55" y2="410.6" stroke="#000" stroke-width="0.9"/>
<line x1="71.75" y1="380.4" x2="75.55" y2="380.4" stroke="#000" stroke-width="0.9"/>
<line x1="71.75" y1="365.2" x2="75.55" y2="365.2" stroke="#000" stroke-width="0.9"/>
<line x1="71.75" y1="350.1" x2="75.55" y2="350.1" stroke="#000" stroke-width="0.9"/>
<line x1="71.75" y1="335.0" x2="75.55" y2="335.0" stroke="#000" stroke-width="0.9"/>
<line x1="71.75" y1="304.8" x2="75.55" y2="304.8" stroke="#000" stroke-width="0.9"/>
<line x1="71.75" y1="289.6" x2="75.55" y2="289.6" stroke="#000" stroke-width="0.9"/>
<line x1="71.75" y1="274.5" x2="75.55" y2="274.5" stroke="#000" stroke-width="0.9"/>
<line x1="71.75" y1="259.4" x2="75.55" y2="259.4" stroke="#000" stroke-width="0.9"/>
<line x1="71.75" y1="229.2" x2="75.55" y2="229.2" stroke="#000" stroke-width="0.9"/>
<line x1="71.75" y1="214.0" x2="75.55" y2="214.0" stroke="#000" stroke-width="0.9"/>
<line x1="71.75" y1="198.9" x2="75.55" y2="198.9" stroke="#000" stroke-width="0.9"/>
<line x1="71.75" y1="183.8" x2="75.55" y2="183.8" stroke="#000" stroke-width="0.9"/>
<line x1="71.75" y1="153.6" x2="75.55" y2="153.6" stroke="#000" stroke-width="0.9"/>
<line x1="71.75" y1="138.4" x2="75.55" y2="138.4" stroke="#000" stroke-width="0.9"/>
<line x1="71.75" y1="123.3" x2="75.55" y2="123.3" stroke="#000" stroke-width="0.9"/>
<line x1="71.75" y1="108.2" x2="75.55" y2="108.2" stroke="#000" stroke-width="0.9"/>
<line x1="71.75" y1="78.0" x2="75.55" y2="78.0" stroke="#000" stroke-width="0.9"/>
<line x1="71.75" y1="62.8" x2="75.55" y2="62.8" stroke="#000" stroke-width="0.9"/>
<line x1="71.75" y1="47.7" x2="75.55" y2="47.7" stroke="#000" stroke-width="0.9"/>
<line x1="71.75" y1="32.6" x2="75.55" y2="32.6" stroke="#000" stroke-width="0.9"/>
<polygon points="631.40,75.50 632.75,79.54 637.01,79.58 633.59,82.11 634.87,86.17 631.40,83.70 627.93,86.17 629.21,82.11 625.79,79.58 630.05,79.54" fill="#000" stroke="#000" stroke-width="0.8" stroke-linejoin="miter"/>
<text transform="translate(635.90,79.40) scale(1.1283,1)" x="-0.21 9.63 18.76 27.51 32.45 40.71" y="0" font-size="17.9">Punjab</text>
<polygon points="740.70,106.80 742.05,110.84 746.31,110.88 742.89,113.41 744.17,117.47 740.70,115.00 737.23,117.47 738.51,113.41 735.09,110.88 739.35,110.84" fill="#000" stroke="#000" stroke-width="0.8" stroke-linejoin="miter"/>
<text transform="translate(745.00,110.10) scale(1.1591,1)" x="-0.62 10.74 19.92 28.09 37.08 45.79 50.51 59.67 68.17 74.53" y="0" font-size="17.9">Chandigarh</text>
<polygon points="688.50,233.90 689.85,237.94 694.11,237.98 690.69,240.51 691.97,244.57 688.50,242.10 685.03,244.57 686.31,240.51 682.89,237.98 687.15,237.94" fill="#000" stroke="#000" stroke-width="0.8" stroke-linejoin="miter"/>
<text transform="translate(692.40,237.10) scale(1.1695,1)" x="-0.38 12.34 20.83 26.60 35.20 43.34 52.49" y="0" font-size="17.9">Haryana</text>
<polygon points="765.50,260.90 766.85,264.94 771.11,264.98 767.69,267.51 768.97,271.57 765.50,269.10 762.03,271.57 763.31,267.51 759.89,264.98 764.15,264.94" fill="#000" stroke="#000" stroke-width="0.8" stroke-linejoin="miter"/>
<text transform="translate(769.00,263.80) scale(1.0737,1)" x="-0.51 12.33 20.59 25.76 34.91" y="0" font-size="17.9">Delhi</text>
<polygon points="786.70,273.70 788.05,277.74 792.31,277.78 788.89,280.31 790.17,284.37 786.70,281.90 783.23,284.37 784.51,280.31 781.09,277.78 785.35,277.74" fill="#000" stroke="#000" stroke-width="0.8" stroke-linejoin="miter"/>
<text transform="translate(790.90,276.60) scale(1.1179,1)" x="-0.15 12.49 21.12 26.06 35.47" y="0" font-size="17.9">Noida</text>
<polygon points="941.50,286.60 942.85,290.64 947.11,290.68 943.69,293.21 944.97,297.27 941.50,294.80 938.03,297.27 939.31,293.21 935.89,290.68 940.15,290.64" fill="#000" stroke="#000" stroke-width="0.8" stroke-linejoin="miter"/>
<text transform="translate(945.40,289.80) scale(1.1082,1)" x="-0.57 11.20 20.08 26.95 35.13 39.83 44.53 49.03" y="0" font-size="17.9">Bareilly</text>
<polygon points="833.50,376.60 834.85,380.64 839.11,380.68 835.69,383.21 836.97,387.27 833.50,384.80 830.03,387.27 831.31,383.21 827.89,380.68 832.15,380.64" fill="#000" stroke="#000" stroke-width="0.8" stroke-linejoin="miter"/>
<text transform="translate(837.40,379.80) scale(1.1067,1)" x="-1.16 10.83 20.54 27.43" y="0" font-size="17.9">Agra</text>
<polygon points="665.30,396.40 666.65,400.44 670.91,400.48 667.49,403.01 668.77,407.07 665.30,404.60 661.83,407.07 663.11,403.01 659.69,400.48 663.95,400.44" fill="#000" stroke="#000" stroke-width="0.8" stroke-linejoin="miter"/>
<text transform="translate(669.60,399.90) scale(1.1361,1)" x="-0.64 5.96 13.95 18.78 27.90 37.37" y="0" font-size="17.9">Jaipur</text>
<polygon points="846.20,407.60 847.55,411.64 851.81,411.68 848.39,414.21 849.67,418.27 846.20,415.80 842.73,418.27 844.01,414.21 840.59,411.68 844.85,411.64" fill="#000" stroke="#000" stroke-width="0.8" stroke-linejoin="miter"/>
<text transform="translate(850.40,410.80) scale(1.1064,1)" x="-0.56 11.66 24.88 33.13 37.85 42.67 52.14" y="0" font-size="17.9">Gwalior</text>
<polygon points="1055.50,401.90 1056.85,405.94 1061.11,405.98 1057.69,408.51 1058.97,412.57 1055.50,410.10 1052.03,412.57 1053.31,408.51 1049.89,405.98 1054.15,405.94" fill="#000" stroke="#000" stroke-width="0.8" stroke-linejoin="miter"/>
<text transform="translate(1059.70,404.80) scale(1.1035,1)" x="-0.56 10.09 19.49 27.60 36.83 46.04 54.82" y="0" font-size="17.9">Lucknow</text>
<polygon points="1009.50,431.60 1010.85,435.64 1015.11,435.68 1011.69,438.21 1012.97,442.27 1009.50,439.80 1006.03,442.27 1007.31,438.21 1003.89,435.68 1008.15,435.64" fill="#000" stroke="#000" stroke-width="0.8" stroke-linejoin="miter"/>
<text transform="translate(1013.70,434.80) scale(1.1419,1)" x="-1.12 10.99 19.37 28.56 37.75 47.28" y="0" font-size="17.9">Kanpur</text>
<polygon points="1239.50,407.60 1240.85,411.64 1245.11,411.68 1241.69,414.21 1242.97,418.27 1239.50,415.80 1236.03,418.27 1237.31,414.21 1233.89,411.68 1238.15,411.64" fill="#000" stroke="#000" stroke-width="0.8" stroke-linejoin="miter"/>
<text transform="translate(1243.00,410.80) scale(1.1645,1)" x="-0.82 11.07 20.19 26.79 34.78 43.62 52.69 61.76 71.19" y="0" font-size="17.9">Gorakhpur</text>
<polygon points="1209.40,516.30 1210.75,520.34 1215.01,520.38 1211.59,522.91 1212.87,526.97 1209.40,524.50 1205.93,526.97 1207.21,522.91 1203.79,520.38 1208.05,520.34" fill="#000" stroke="#000" stroke-width="0.8" stroke-linejoin="miter"/>
<text transform="translate(1212.90,519.50) scale(1.1225,1)" x="-1.32 10.56 19.20 25.86 34.19 43.53 51.92 58.85" y="0" font-size="17.9">Varanasi</text>
<polygon points="1373.50,496.40 1374.85,500.44 1379.11,500.48 1375.69,503.01 1376.97,507.07 1373.50,504.60 1370.03,507.07 1371.31,503.01 1367.89,500.48 1372.15,500.44" fill="#000" stroke="#000" stroke-width="0.8" stroke-linejoin="miter"/>
<text transform="translate(1377.70,498.80) scale(1.1542,1)" x="-0.38 9.29 17.59 22.75 31.72" y="0" font-size="17.9">Patna</text>
<rect x="1175.7" y="12.8" width="270.2" height="35.6" rx="5" ry="5" fill="#fff" fill-opacity="0.9" stroke="#808080" stroke-width="1.3"/>
<text transform="translate(1182.50,38.00) scale(1.1367,1)" x="0.21 12.63 24.15 30.78 47.59 58.97 65.53 73.04 85.46 97.88 110.30 122.62 128.93 141.36 153.52 160.36 172.78 185.09 191.06 198.92 211.47" y="0" font-size="24">21-Oct-2025 19:00 IST</text>
</svg></body></html>
